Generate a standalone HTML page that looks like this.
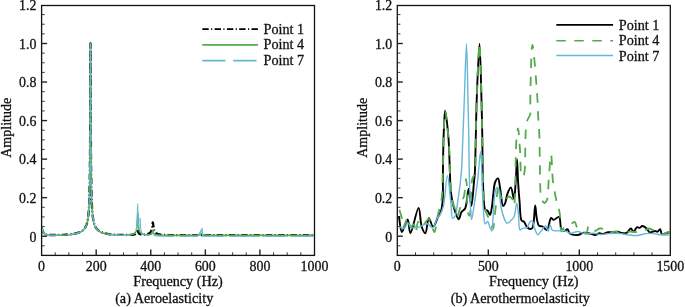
<!DOCTYPE html>
<html><head><meta charset="utf-8"><style>
html,body{margin:0;padding:0;background:#fff;width:685px;height:307px;overflow:hidden}
</style></head><body>
<svg width="685" height="307" viewBox="0 0 685 307" style="display:block;will-change:transform">
<g font-family='"Liberation Serif", serif' font-size="13.9" fill="#111" stroke="#111" stroke-width="0.3">
<rect x="41.6" y="5.5" width="272.9" height="249.9" fill="none" stroke="#111" stroke-width="1.3"/>
<line x1="41.6" y1="245.83" x2="44.7" y2="245.83" stroke="#222" stroke-width="0.9"/>
<line x1="41.6" y1="236.2" x2="47.1" y2="236.2" stroke="#222" stroke-width="1.4"/>
<line x1="41.6" y1="226.56" x2="44.7" y2="226.56" stroke="#222" stroke-width="0.9"/>
<line x1="41.6" y1="216.93" x2="44.7" y2="216.93" stroke="#222" stroke-width="0.9"/>
<line x1="41.6" y1="207.29" x2="44.7" y2="207.29" stroke="#222" stroke-width="0.9"/>
<line x1="41.6" y1="197.66" x2="47.1" y2="197.66" stroke="#222" stroke-width="1.4"/>
<line x1="41.6" y1="188.02" x2="44.7" y2="188.02" stroke="#222" stroke-width="0.9"/>
<line x1="41.6" y1="178.39" x2="44.7" y2="178.39" stroke="#222" stroke-width="0.9"/>
<line x1="41.6" y1="168.75" x2="44.7" y2="168.75" stroke="#222" stroke-width="0.9"/>
<line x1="41.6" y1="159.12" x2="47.1" y2="159.12" stroke="#222" stroke-width="1.4"/>
<line x1="41.6" y1="149.48" x2="44.7" y2="149.48" stroke="#222" stroke-width="0.9"/>
<line x1="41.6" y1="139.85" x2="44.7" y2="139.85" stroke="#222" stroke-width="0.9"/>
<line x1="41.6" y1="130.21" x2="44.7" y2="130.21" stroke="#222" stroke-width="0.9"/>
<line x1="41.6" y1="120.58" x2="47.1" y2="120.58" stroke="#222" stroke-width="1.4"/>
<line x1="41.6" y1="110.94" x2="44.7" y2="110.94" stroke="#222" stroke-width="0.9"/>
<line x1="41.6" y1="101.31" x2="44.7" y2="101.31" stroke="#222" stroke-width="0.9"/>
<line x1="41.6" y1="91.68" x2="44.7" y2="91.68" stroke="#222" stroke-width="0.9"/>
<line x1="41.6" y1="82.04" x2="47.1" y2="82.04" stroke="#222" stroke-width="1.4"/>
<line x1="41.6" y1="72.4" x2="44.7" y2="72.4" stroke="#222" stroke-width="0.9"/>
<line x1="41.6" y1="62.77" x2="44.7" y2="62.77" stroke="#222" stroke-width="0.9"/>
<line x1="41.6" y1="53.13" x2="44.7" y2="53.13" stroke="#222" stroke-width="0.9"/>
<line x1="41.6" y1="43.5" x2="47.1" y2="43.5" stroke="#222" stroke-width="1.4"/>
<line x1="41.6" y1="33.86" x2="44.7" y2="33.86" stroke="#222" stroke-width="0.9"/>
<line x1="41.6" y1="24.23" x2="44.7" y2="24.23" stroke="#222" stroke-width="0.9"/>
<line x1="41.6" y1="14.59" x2="44.7" y2="14.59" stroke="#222" stroke-width="0.9"/>
<line x1="55.24" y1="255.4" x2="55.24" y2="252.3" stroke="#222" stroke-width="0.9"/>
<line x1="68.89" y1="255.4" x2="68.89" y2="252.3" stroke="#222" stroke-width="0.9"/>
<line x1="82.53" y1="255.4" x2="82.53" y2="252.3" stroke="#222" stroke-width="0.9"/>
<line x1="96.18" y1="255.4" x2="96.18" y2="249.4" stroke="#222" stroke-width="1.4"/>
<line x1="109.82" y1="255.4" x2="109.82" y2="252.3" stroke="#222" stroke-width="0.9"/>
<line x1="123.47" y1="255.4" x2="123.47" y2="252.3" stroke="#222" stroke-width="0.9"/>
<line x1="137.11" y1="255.4" x2="137.11" y2="252.3" stroke="#222" stroke-width="0.9"/>
<line x1="150.76" y1="255.4" x2="150.76" y2="249.4" stroke="#222" stroke-width="1.4"/>
<line x1="164.4" y1="255.4" x2="164.4" y2="252.3" stroke="#222" stroke-width="0.9"/>
<line x1="178.05" y1="255.4" x2="178.05" y2="252.3" stroke="#222" stroke-width="0.9"/>
<line x1="191.69" y1="255.4" x2="191.69" y2="252.3" stroke="#222" stroke-width="0.9"/>
<line x1="205.34" y1="255.4" x2="205.34" y2="249.4" stroke="#222" stroke-width="1.4"/>
<line x1="218.98" y1="255.4" x2="218.98" y2="252.3" stroke="#222" stroke-width="0.9"/>
<line x1="232.63" y1="255.4" x2="232.63" y2="252.3" stroke="#222" stroke-width="0.9"/>
<line x1="246.27" y1="255.4" x2="246.27" y2="252.3" stroke="#222" stroke-width="0.9"/>
<line x1="259.92" y1="255.4" x2="259.92" y2="249.4" stroke="#222" stroke-width="1.4"/>
<line x1="273.56" y1="255.4" x2="273.56" y2="252.3" stroke="#222" stroke-width="0.9"/>
<line x1="287.21" y1="255.4" x2="287.21" y2="252.3" stroke="#222" stroke-width="0.9"/>
<line x1="300.86" y1="255.4" x2="300.86" y2="252.3" stroke="#222" stroke-width="0.9"/>
<text x="41.6" y="271" text-anchor="middle">0</text>
<text x="96.18" y="271" text-anchor="middle">200</text>
<text x="150.76" y="271" text-anchor="middle">400</text>
<text x="205.34" y="271" text-anchor="middle">600</text>
<text x="259.92" y="271" text-anchor="middle">800</text>
<text x="314.5" y="271" text-anchor="middle">1000</text>
<text x="36.4" y="241.5" text-anchor="end">0</text>
<text x="36.4" y="202.96" text-anchor="end">0.2</text>
<text x="36.4" y="164.42" text-anchor="end">0.4</text>
<text x="36.4" y="125.88" text-anchor="end">0.6</text>
<text x="36.4" y="87.34" text-anchor="end">0.8</text>
<text x="36.4" y="48.8" text-anchor="end">1.0</text>
<text x="36.4" y="10.26" text-anchor="end">1.2</text>
<text transform="translate(10.6,127.8) rotate(-90)" text-anchor="middle" font-size="14">Amplitude</text>
<text x="178.05" y="285.8" text-anchor="middle" font-size="14.2">Frequency (Hz)</text>
<rect x="397.3" y="5.5" width="273" height="249.9" fill="none" stroke="#111" stroke-width="1.3"/>
<line x1="397.3" y1="245.83" x2="400.4" y2="245.83" stroke="#222" stroke-width="0.9"/>
<line x1="397.3" y1="236.2" x2="402.8" y2="236.2" stroke="#222" stroke-width="1.4"/>
<line x1="397.3" y1="226.56" x2="400.4" y2="226.56" stroke="#222" stroke-width="0.9"/>
<line x1="397.3" y1="216.93" x2="400.4" y2="216.93" stroke="#222" stroke-width="0.9"/>
<line x1="397.3" y1="207.29" x2="400.4" y2="207.29" stroke="#222" stroke-width="0.9"/>
<line x1="397.3" y1="197.66" x2="402.8" y2="197.66" stroke="#222" stroke-width="1.4"/>
<line x1="397.3" y1="188.02" x2="400.4" y2="188.02" stroke="#222" stroke-width="0.9"/>
<line x1="397.3" y1="178.39" x2="400.4" y2="178.39" stroke="#222" stroke-width="0.9"/>
<line x1="397.3" y1="168.75" x2="400.4" y2="168.75" stroke="#222" stroke-width="0.9"/>
<line x1="397.3" y1="159.12" x2="402.8" y2="159.12" stroke="#222" stroke-width="1.4"/>
<line x1="397.3" y1="149.48" x2="400.4" y2="149.48" stroke="#222" stroke-width="0.9"/>
<line x1="397.3" y1="139.85" x2="400.4" y2="139.85" stroke="#222" stroke-width="0.9"/>
<line x1="397.3" y1="130.21" x2="400.4" y2="130.21" stroke="#222" stroke-width="0.9"/>
<line x1="397.3" y1="120.58" x2="402.8" y2="120.58" stroke="#222" stroke-width="1.4"/>
<line x1="397.3" y1="110.94" x2="400.4" y2="110.94" stroke="#222" stroke-width="0.9"/>
<line x1="397.3" y1="101.31" x2="400.4" y2="101.31" stroke="#222" stroke-width="0.9"/>
<line x1="397.3" y1="91.68" x2="400.4" y2="91.68" stroke="#222" stroke-width="0.9"/>
<line x1="397.3" y1="82.04" x2="402.8" y2="82.04" stroke="#222" stroke-width="1.4"/>
<line x1="397.3" y1="72.4" x2="400.4" y2="72.4" stroke="#222" stroke-width="0.9"/>
<line x1="397.3" y1="62.77" x2="400.4" y2="62.77" stroke="#222" stroke-width="0.9"/>
<line x1="397.3" y1="53.13" x2="400.4" y2="53.13" stroke="#222" stroke-width="0.9"/>
<line x1="397.3" y1="43.5" x2="402.8" y2="43.5" stroke="#222" stroke-width="1.4"/>
<line x1="397.3" y1="33.86" x2="400.4" y2="33.86" stroke="#222" stroke-width="0.9"/>
<line x1="397.3" y1="24.23" x2="400.4" y2="24.23" stroke="#222" stroke-width="0.9"/>
<line x1="397.3" y1="14.59" x2="400.4" y2="14.59" stroke="#222" stroke-width="0.9"/>
<line x1="415.5" y1="255.4" x2="415.5" y2="252.3" stroke="#222" stroke-width="0.9"/>
<line x1="433.7" y1="255.4" x2="433.7" y2="252.3" stroke="#222" stroke-width="0.9"/>
<line x1="451.9" y1="255.4" x2="451.9" y2="252.3" stroke="#222" stroke-width="0.9"/>
<line x1="470.1" y1="255.4" x2="470.1" y2="252.3" stroke="#222" stroke-width="0.9"/>
<line x1="488.3" y1="255.4" x2="488.3" y2="249.4" stroke="#222" stroke-width="1.4"/>
<line x1="506.5" y1="255.4" x2="506.5" y2="252.3" stroke="#222" stroke-width="0.9"/>
<line x1="524.7" y1="255.4" x2="524.7" y2="252.3" stroke="#222" stroke-width="0.9"/>
<line x1="542.9" y1="255.4" x2="542.9" y2="252.3" stroke="#222" stroke-width="0.9"/>
<line x1="561.1" y1="255.4" x2="561.1" y2="252.3" stroke="#222" stroke-width="0.9"/>
<line x1="579.3" y1="255.4" x2="579.3" y2="249.4" stroke="#222" stroke-width="1.4"/>
<line x1="597.5" y1="255.4" x2="597.5" y2="252.3" stroke="#222" stroke-width="0.9"/>
<line x1="615.7" y1="255.4" x2="615.7" y2="252.3" stroke="#222" stroke-width="0.9"/>
<line x1="633.9" y1="255.4" x2="633.9" y2="252.3" stroke="#222" stroke-width="0.9"/>
<line x1="652.1" y1="255.4" x2="652.1" y2="252.3" stroke="#222" stroke-width="0.9"/>
<text x="397.3" y="271" text-anchor="middle">0</text>
<text x="488.3" y="271" text-anchor="middle">500</text>
<text x="579.3" y="271" text-anchor="middle">1000</text>
<text x="670.3" y="271" text-anchor="middle">1500</text>
<text x="392.3" y="241.5" text-anchor="end">0</text>
<text x="392.3" y="202.96" text-anchor="end">0.2</text>
<text x="392.3" y="164.42" text-anchor="end">0.4</text>
<text x="392.3" y="125.88" text-anchor="end">0.6</text>
<text x="392.3" y="87.34" text-anchor="end">0.8</text>
<text x="392.3" y="48.8" text-anchor="end">1.0</text>
<text x="392.3" y="10.26" text-anchor="end">1.2</text>
<text transform="translate(367.2,127.8) rotate(-90)" text-anchor="middle" font-size="14">Amplitude</text>
<text x="533.8" y="285.8" text-anchor="middle" font-size="14.2">Frequency (Hz)</text>
<text x="164.2" y="303.3" text-anchor="middle" font-size="14.2">(a) Aeroelasticity</text>
<text x="520.2" y="303.3" text-anchor="middle" font-size="14.2">(b) Aerothermoelasticity</text>
</g>
<defs><clipPath id="cl"><rect x="42" y="6" width="272" height="248.5"/></clipPath><clipPath id="cr"><rect x="397.8" y="6" width="272" height="248.5"/></clipPath></defs>
<g clip-path="url(#cl)" fill="none" stroke-linejoin="round">
<polyline points="41.60,227.33 41.74,227.95 41.87,228.52 42.01,229.04 42.15,229.52 42.28,229.96 42.42,230.37 42.56,230.74 42.69,231.08 42.83,231.40 42.96,231.69 43.10,231.96 43.24,232.21 43.37,232.43 43.51,232.64 43.65,232.83 43.78,233.01 43.92,233.17 44.06,233.32 44.19,233.46 44.33,233.59 44.47,233.70 44.60,233.81 44.74,233.91 44.87,234.00 45.01,234.08 45.15,234.16 45.28,234.23 45.42,234.29 45.56,234.35 45.69,234.41 45.83,234.46 45.97,234.50 46.10,234.55 46.24,234.59 46.38,234.62 46.51,234.66 46.65,234.69 46.79,234.71 46.92,234.74 47.06,234.76 47.19,234.78 47.33,234.80 47.47,234.82 47.60,234.84 47.74,234.86 47.88,234.87 48.01,234.88 48.15,234.90 48.29,234.91 48.42,234.92 48.56,234.93 48.70,234.93 48.83,234.94 48.97,234.95 49.10,234.96 49.24,234.96 49.38,234.97 49.51,234.97 49.65,234.98 49.79,234.98 49.92,234.98 50.06,234.99 50.20,234.99 50.33,234.99 50.47,235.00 50.61,235.00 50.74,235.00 50.88,235.00 51.02,235.00 51.15,235.01 51.29,235.01 51.42,235.01 51.56,235.01 51.70,235.01 51.83,235.01 51.97,235.01 52.11,235.01 52.24,235.01 52.38,235.01 52.52,235.01 52.65,235.01 52.79,235.01 52.93,235.01 53.06,235.01 53.20,235.01 53.33,235.01 53.47,235.01 53.61,235.01 53.74,235.01 53.88,235.01 54.02,235.01 54.15,235.01 54.29,235.01 54.43,235.01 54.56,235.01 54.70,235.01 54.84,235.00 54.97,235.00 55.11,235.00 55.24,235.00 55.38,235.00 55.52,235.00 55.65,235.00 55.79,235.00 55.93,235.00 56.06,234.99 56.20,234.99 56.34,234.99 56.47,234.99 56.61,234.99 56.75,234.99 56.88,234.98 57.02,234.98 57.16,234.98 57.29,234.98 57.43,234.98 57.56,234.98 57.70,234.97 57.84,234.97 57.97,234.97 58.11,234.97 58.25,234.97 58.38,234.96 58.52,234.96 58.66,234.96 58.79,234.96 58.93,234.95 59.07,234.95 59.20,234.95 59.34,234.95 59.47,234.94 59.61,234.94 59.75,234.94 59.88,234.94 60.02,234.93 60.16,234.93 60.29,234.93 60.43,234.92 60.57,234.92 60.70,234.92 60.84,234.91 60.98,234.91 61.11,234.91 61.25,234.90 61.39,234.90 61.52,234.89 61.66,234.89 61.79,234.89 61.93,234.88 62.07,234.88 62.20,234.87 62.34,234.87 62.48,234.86 62.61,234.86 62.75,234.85 62.89,234.85 63.02,234.84 63.16,234.84 63.30,234.83 63.43,234.83 63.57,234.82 63.70,234.82 63.84,234.81 63.98,234.81 64.11,234.80 64.25,234.79 64.39,234.79 64.52,234.78 64.66,234.77 64.80,234.77 64.93,234.76 65.07,234.75 65.21,234.75 65.34,234.74 65.48,234.73 65.62,234.72 65.75,234.72 65.89,234.71 66.02,234.70 66.16,234.69 66.30,234.68 66.43,234.68 66.57,234.67 66.71,234.66 66.84,234.65 66.98,234.64 67.12,234.63 67.25,234.62 67.39,234.61 67.53,234.60 67.66,234.59 67.80,234.58 67.93,234.57 68.07,234.56 68.21,234.55 68.34,234.53 68.48,234.52 68.62,234.51 68.75,234.50 68.89,234.49 69.03,234.47 69.16,234.46 69.30,234.45 69.44,234.43 69.57,234.42 69.71,234.41 69.85,234.39 69.98,234.38 70.12,234.36 70.25,234.35 70.39,234.33 70.53,234.32 70.66,234.30 70.80,234.28 70.94,234.27 71.07,234.25 71.21,234.23 71.35,234.22 71.48,234.20 71.62,234.18 71.76,234.16 71.89,234.14 72.03,234.12 72.16,234.10 72.30,234.08 72.44,234.06 72.57,234.04 72.71,234.02 72.85,234.00 72.98,233.98 73.12,233.95 73.26,233.93 73.39,233.91 73.53,233.88 73.67,233.86 73.80,233.83 73.94,233.81 74.08,233.78 74.21,233.76 74.35,233.73 74.48,233.70 74.62,233.68 74.76,233.65 74.89,233.62 75.03,233.59 75.17,233.56 75.30,233.53 75.44,233.50 75.58,233.47 75.71,233.43 75.85,233.40 75.99,233.37 76.12,233.33 76.26,233.30 76.39,233.26 76.53,233.23 76.67,233.19 76.80,233.15 76.94,233.11 77.08,233.07 77.21,233.03 77.35,232.99 77.49,232.95 77.62,232.91 77.76,232.86 77.90,232.82 78.03,232.77 78.17,232.73 78.31,232.68 78.44,232.63 78.58,232.58 78.71,232.53 78.85,232.48 78.99,232.42 79.12,232.37 79.26,232.32 79.40,232.26 79.53,232.20 79.67,232.14 79.81,232.08 79.94,232.02 80.08,231.95 80.22,231.89 80.35,231.82 80.49,231.75 80.62,231.68 80.76,231.61 80.90,231.54 81.03,231.46 81.17,231.38 81.31,231.30 81.44,231.22 81.58,231.14 81.72,231.05 81.85,230.96 81.99,230.87 82.13,230.77 82.26,230.68 82.40,230.57 82.53,230.47 82.67,230.36 82.81,230.25 82.94,230.14 83.08,230.02 83.22,229.90 83.35,229.77 83.49,229.64 83.63,229.50 83.76,229.36 83.90,229.22 84.04,229.07 84.17,228.91 84.31,228.74 84.45,228.57 84.58,228.39 84.72,228.21 84.85,228.01 84.99,227.81 85.13,227.59 85.26,227.37 85.40,227.14 85.54,226.89 85.67,226.63 85.81,226.35 85.95,226.06 86.08,225.75 86.22,225.43 86.36,225.08 86.49,224.71 86.63,224.32 86.76,223.90 86.90,223.44 87.04,222.96 87.17,222.43 87.31,221.86 87.45,221.25 87.58,220.57 87.72,219.84 87.86,219.02 87.99,218.13 88.13,217.13 88.27,216.02 88.40,214.76 88.54,213.34 88.68,211.71 88.81,209.83 88.95,207.63 89.08,205.02 89.22,201.88 89.36,198.04 89.49,193.23 89.63,187.05 89.77,178.84 89.90,167.50 90.04,151.06 90.18,126.12 90.31,88.64 90.45,48.83 90.50,43.50 90.59,54.91 90.72,97.15 90.86,132.00 90.99,154.89 91.13,170.10 91.27,180.69 91.40,188.43 91.54,194.29 91.68,198.88 91.81,202.56 91.95,205.58 92.09,208.10 92.22,210.23 92.36,212.05 92.50,213.64 92.63,215.03 92.77,216.25 92.91,217.34 93.04,218.31 93.18,219.19 93.31,219.99 93.45,220.71 93.59,221.37 93.72,221.98 93.86,222.54 94.00,223.06 94.13,223.54 94.27,223.98 94.41,224.40 94.54,224.79 94.68,225.15 94.82,225.49 94.95,225.82 95.09,226.12 95.22,226.41 95.36,226.68 95.50,226.94 95.63,227.18 95.77,227.42 95.91,227.64 96.04,227.85 96.18,228.05 96.32,228.25 96.45,228.43 96.59,228.61 96.73,228.78 96.86,228.94 97.00,229.10 97.14,229.25 97.27,229.39 97.41,229.53 97.54,229.67 97.68,229.80 97.82,229.92 97.95,230.04 98.09,230.16 98.23,230.28 98.36,230.39 98.50,230.49 98.64,230.59 98.77,230.70 98.91,230.79 99.05,230.89 99.18,230.98 99.32,231.07 99.45,231.15 99.59,231.24 99.73,231.32 99.86,231.40 100.00,231.48 100.14,231.55 100.27,231.63 100.41,231.70 100.55,231.77 100.68,231.84 100.82,231.90 100.96,231.97 101.09,232.03 101.23,232.09 101.37,232.15 101.50,232.21 101.64,232.27 101.77,232.33 101.91,232.38 102.05,232.44 102.18,232.49 102.32,232.54 102.46,232.59 102.59,232.64 102.73,232.69 102.87,232.74 103.00,232.78 103.14,232.83 103.28,232.87 103.41,232.92 103.55,232.96 103.68,233.00 103.82,233.04 103.96,233.08 104.09,233.12 104.23,233.16 104.37,233.20 104.50,233.23 104.64,233.27 104.78,233.30 104.91,233.34 105.05,233.37 105.19,233.41 105.32,233.44 105.46,233.47 105.60,233.50 105.73,233.53 105.87,233.57 106.00,233.60 106.14,233.62 106.28,233.65 106.41,233.68 106.55,233.71 106.69,233.74 106.82,233.76 106.96,233.79 107.10,233.81 107.23,233.84 107.37,233.86 107.51,233.89 107.64,233.91 107.78,233.94 107.91,233.96 108.05,233.98 108.19,234.00 108.32,234.02 108.46,234.05 108.60,234.07 108.73,234.09 108.87,234.11 109.01,234.13 109.14,234.15 109.28,234.16 109.42,234.18 109.55,234.20 109.69,234.22 109.82,234.24 109.96,234.25 110.10,234.27 110.23,234.29 110.37,234.30 110.51,234.32 110.64,234.33 110.78,234.35 110.92,234.37 111.05,234.38 111.19,234.39 111.33,234.41 111.46,234.42 111.60,234.44 111.74,234.45 111.87,234.46 112.01,234.48 112.14,234.49 112.28,234.50 112.42,234.51 112.55,234.52 112.69,234.54 112.83,234.55 112.96,234.56 113.10,234.57 113.24,234.58 113.37,234.59 113.51,234.60 113.65,234.61 113.78,234.62 113.92,234.63 114.05,234.64 114.19,234.65 114.33,234.66 114.46,234.67 114.60,234.68 114.74,234.69 114.87,234.69 115.01,234.70 115.15,234.71 115.28,234.72 115.42,234.73 115.56,234.73 115.69,234.74 115.83,234.75 115.97,234.76 116.10,234.76 116.24,234.77 116.37,234.78 116.51,234.78 116.65,234.79 116.78,234.79 116.92,234.80 117.06,234.81 117.19,234.81 117.33,234.82 117.47,234.82 117.60,234.83 117.74,234.83 117.88,234.84 118.01,234.85 118.15,234.85 118.28,234.85 118.42,234.86 118.56,234.86 118.69,234.87 118.83,234.87 118.97,234.88 119.10,234.88 119.24,234.89 119.38,234.89 119.51,234.89 119.65,234.90 119.79,234.90 119.92,234.90 120.06,234.91 120.20,234.91 120.33,234.92 120.47,234.92 120.60,234.92 120.74,234.92 120.88,234.93 121.01,234.93 121.15,234.93 121.29,234.94 121.42,234.94 121.56,234.94 121.70,234.94 121.83,234.95 121.97,234.95 122.11,234.95 122.24,234.95 122.38,234.95 122.51,234.96 122.65,234.96 122.79,234.96 122.92,234.96 123.06,234.96 123.20,234.97 123.33,234.97 123.47,234.97 123.61,234.97 123.74,234.97 123.88,234.97 124.02,234.97 124.15,234.97 124.29,234.97 124.43,234.98 124.56,234.98 124.70,234.98 124.83,234.98 124.97,234.98 125.11,234.98 125.24,234.98 125.38,234.98 125.52,234.98 125.65,234.98 125.79,234.98 125.93,234.98 126.06,234.98 126.20,234.98 126.34,234.98 126.47,234.98 126.61,234.97 126.74,234.97 126.88,234.97 127.02,234.97 127.15,234.97 127.29,234.97 127.43,234.97 127.56,234.96 127.70,234.96 127.84,234.96 127.97,234.96 128.11,234.96 128.25,234.95 128.38,234.95 128.52,234.95 128.66,234.94 128.79,234.94 128.93,234.94 129.06,234.93 129.20,234.93 129.34,234.92 129.47,234.92 129.61,234.91 129.75,234.91 129.88,234.90 130.02,234.90 130.16,234.89 130.29,234.88 130.43,234.88 130.57,234.87 130.70,234.86 130.84,234.85 130.97,234.85 131.11,234.84 131.25,234.83 131.38,234.82 131.52,234.81 131.66,234.80 131.79,234.79 131.93,234.78 132.07,234.76 132.20,234.75 132.34,234.74 132.48,234.72 132.61,234.71 132.75,234.69 132.89,234.68 133.02,234.66 133.16,234.64 133.29,234.62 133.43,234.60 133.57,234.58 133.70,234.56 133.84,234.53 133.98,234.50 134.11,234.48 134.25,234.44 134.39,234.41 134.52,234.38 134.66,234.34 134.80,234.30 134.93,234.25 135.07,234.20 135.20,234.14 135.34,234.08 135.48,234.01 135.61,233.94 135.75,233.85 135.89,233.75 136.02,233.64 136.16,233.51 136.30,233.35 136.43,233.17 136.57,232.94 136.71,232.67 136.84,232.32 136.98,231.89 137.11,231.34 137.25,230.67 137.39,229.93 137.52,229.36 137.61,229.24 137.66,229.30 137.80,229.79 137.82,229.93 137.93,230.52 138.07,231.21 138.21,231.78 138.34,232.23 138.48,232.59 138.62,232.88 138.75,233.11 138.89,233.30 139.03,233.46 139.16,233.59 139.30,233.70 139.43,233.80 139.57,233.89 139.71,233.96 139.84,234.03 139.98,234.09 140.12,234.14 140.25,234.19 140.39,234.23 140.53,234.27 140.66,234.31 140.80,234.34 140.94,234.37 141.07,234.39 141.21,234.42 141.34,234.44 141.48,234.46 141.62,234.48 141.75,234.49 141.89,234.51 142.03,234.52 142.16,234.53 142.30,234.54 142.44,234.55 142.57,234.56 142.71,234.57 142.85,234.57 142.98,234.58 143.12,234.58 143.26,234.58 143.39,234.58 143.53,234.58 143.66,234.58 143.80,234.58 143.94,234.58 144.07,234.57 144.21,234.57 144.35,234.56 144.48,234.55 144.62,234.54 144.76,234.54 144.89,234.52 145.03,234.51 145.17,234.50 145.30,234.49 145.44,234.47 145.57,234.45 145.71,234.44 145.85,234.42 145.98,234.40 146.12,234.37 146.26,234.35 146.39,234.33 146.53,234.30 146.67,234.27 146.80,234.24 146.94,234.21 147.08,234.18 147.21,234.14 147.35,234.11 147.49,234.07 147.62,234.03 147.76,233.98 147.89,233.94 148.03,233.89 148.17,233.84 148.30,233.78 148.44,233.72 148.58,233.66 148.71,233.59 148.85,233.52 148.99,233.45 149.12,233.37 149.26,233.28 149.40,233.19 149.53,233.10 149.67,232.99 149.80,232.88 149.94,232.75 150.08,232.62 150.21,232.47 150.35,232.31 150.49,232.13 150.62,231.94 150.76,231.72 150.90,231.47 151.03,231.20 151.17,230.89 151.31,230.54 151.44,230.13 151.58,229.66 151.72,229.11 151.85,228.46 151.99,227.70 152.12,226.82 152.26,225.81 152.40,224.71 152.53,223.65 152.67,222.83 152.81,222.51 152.94,222.83 153.08,223.65 153.22,224.72 153.35,225.81 153.49,226.82 153.63,227.71 153.76,228.47 153.90,229.11 154.03,229.66 154.17,230.14 154.31,230.54 154.44,230.90 154.58,231.21 154.72,231.49 154.85,231.73 154.99,231.95 155.13,232.15 155.26,232.32 155.40,232.49 155.54,232.63 155.67,232.77 155.81,232.90 155.95,233.01 156.08,233.12 156.22,233.22 156.35,233.31 156.49,233.40 156.63,233.48 156.76,233.56 156.90,233.63 157.04,233.70 157.17,233.76 157.31,233.82 157.45,233.88 157.58,233.93 157.72,233.98 157.86,234.03 157.99,234.08 158.13,234.12 158.26,234.17 158.40,234.21 158.54,234.24 158.67,234.28 158.81,234.32 158.95,234.35 159.08,234.38 159.22,234.41 159.36,234.44 159.49,234.47 159.63,234.50 159.77,234.52 159.90,234.55 160.04,234.57 160.18,234.59 160.31,234.61 160.45,234.63 160.58,234.65 160.72,234.67 160.86,234.69 160.99,234.71 161.13,234.72 161.27,234.74 161.40,234.75 161.54,234.77 161.68,234.78 161.81,234.80 161.95,234.81 162.09,234.82 162.22,234.83 162.36,234.84 162.49,234.85 162.63,234.86 162.77,234.87 162.90,234.88 163.04,234.89 163.18,234.90 163.31,234.91 163.45,234.91 163.59,234.92 163.72,234.93 163.86,234.93 164.00,234.94 164.13,234.95 164.27,234.95 164.40,234.96 164.54,234.96 164.68,234.97 164.81,234.97 164.95,234.98 165.09,234.98 165.22,234.98 165.36,234.99 165.50,234.99 165.63,234.99 165.77,235.00 165.91,235.00 166.04,235.00 166.18,235.00 166.32,235.01 166.45,235.01 166.59,235.01 166.72,235.01 166.86,235.02 167.00,235.02 167.13,235.02 167.27,235.02 167.41,235.02 167.54,235.02 167.68,235.03 167.82,235.03 167.95,235.03 168.09,235.03 168.23,235.03 168.36,235.03 168.50,235.03 168.63,235.03 168.77,235.03 168.91,235.03 169.04,235.03 169.18,235.04 169.32,235.04 169.45,235.04 169.59,235.04 169.73,235.04 169.86,235.04 170.00,235.04 170.14,235.04 170.27,235.04 170.41,235.04 170.55,235.04 170.68,235.04 170.82,235.04 170.95,235.04 171.09,235.04 171.23,235.04 171.36,235.04 171.50,235.04 171.64,235.04 171.77,235.04 171.91,235.04 172.05,235.04 172.18,235.04 172.32,235.04 172.46,235.04 172.59,235.04 172.73,235.04 172.86,235.04 173.00,235.04 173.14,235.04 173.27,235.04 173.41,235.04 173.55,235.04 173.68,235.04 173.82,235.04 173.96,235.04 174.09,235.04 174.23,235.04 174.37,235.04 174.50,235.04 174.64,235.04 174.78,235.04 174.91,235.04 175.05,235.04 175.18,235.04 175.32,235.04 175.46,235.04 175.59,235.04 175.73,235.04 175.87,235.04 176.00,235.04 176.14,235.04 176.28,235.04 176.41,235.04 176.55,235.04 176.69,235.04 176.82,235.04 176.96,235.04 177.09,235.04 177.23,235.04 177.37,235.04 177.50,235.04 177.64,235.04 177.78,235.04 177.91,235.04 178.05,235.04 178.19,235.04 178.32,235.04 178.46,235.04 178.60,235.04 178.73,235.04 178.87,235.04 179.01,235.04 179.14,235.04 179.28,235.04 179.41,235.04 179.55,235.04 179.69,235.04 179.82,235.04 179.96,235.04 180.10,235.04 180.23,235.04 180.37,235.04 180.51,235.04 180.64,235.04 180.78,235.04 180.92,235.04 181.05,235.04 181.19,235.04 181.32,235.04 181.46,235.04 181.60,235.04 181.73,235.04 181.87,235.04 182.01,235.04 182.14,235.04 182.28,235.04 182.42,235.04 182.55,235.04 182.69,235.04 182.83,235.04 182.96,235.04 183.10,235.04 183.24,235.04 183.37,235.04 183.51,235.04 183.64,235.04 183.78,235.04 183.92,235.04 184.05,235.04 184.19,235.04 184.33,235.04 184.46,235.04 184.60,235.04 184.74,235.04 184.87,235.04 185.01,235.04 185.15,235.04 185.28,235.04 185.42,235.04 185.55,235.04 185.69,235.04 185.83,235.04 185.96,235.04 186.10,235.04 186.24,235.04 186.37,235.04 186.51,235.04 186.65,235.04 186.78,235.04 186.92,235.04 187.06,235.04 187.19,235.04 187.33,235.04 187.47,235.04 187.60,235.04 187.74,235.04 187.87,235.04 188.01,235.04 188.15,235.04 188.28,235.04 188.42,235.04 188.56,235.04 188.69,235.04 188.83,235.04 188.97,235.04 189.10,235.04 189.24,235.04 189.38,235.04 189.51,235.04 189.65,235.04 189.78,235.04 189.92,235.04 190.06,235.04 190.19,235.04 190.33,235.04 190.47,235.04 190.60,235.04 190.74,235.04 190.88,235.04 191.01,235.04 191.15,235.04 191.29,235.04 191.42,235.04 191.56,235.04 191.69,235.04 191.83,235.04 191.97,235.04 192.10,235.04 192.24,235.04 192.38,235.04 192.51,235.04 192.65,235.04 192.79,235.04 192.92,235.04 193.06,235.04 193.20,235.04 193.33,235.04 193.47,235.04 193.61,235.04 193.74,235.04 193.88,235.04 194.01,235.04 194.15,235.04 194.29,235.04 194.42,235.04 194.56,235.04 194.70,235.04 194.83,235.04 194.97,235.04 195.11,235.04 195.24,235.04 195.38,235.04 195.52,235.04 195.65,235.04 195.79,235.04 195.92,235.04 196.06,235.04 196.20,235.04 196.33,235.04 196.47,235.04 196.61,235.04 196.74,235.04 196.88,235.04 197.02,235.04 197.15,235.04 197.29,235.04 197.43,235.04 197.56,235.04 197.70,235.04 197.84,235.04 197.97,235.04 198.11,235.04 198.24,235.04 198.38,235.04 198.52,235.04 198.65,235.04 198.79,235.04 198.93,235.04 199.06,235.04 199.20,235.04 199.34,235.04 199.47,235.04 199.61,235.04 199.75,235.04 199.88,235.04 200.02,235.04 200.15,235.04 200.29,235.04 200.43,235.04 200.56,235.04 200.70,235.04 200.84,235.04 200.97,235.04 201.11,235.04 201.25,235.04 201.38,235.04 201.52,235.04 201.66,235.04 201.79,235.04 201.93,235.04 202.07,235.04 202.20,235.04 202.34,235.04 202.47,235.04 202.61,235.04 202.75,235.04 202.88,235.04 203.02,235.04 203.16,235.04 203.29,235.04 203.43,235.04 203.57,235.04 203.70,235.04 203.84,235.04 203.98,235.04 204.11,235.04 204.25,235.04 204.38,235.04 204.52,235.04 204.66,235.04 204.79,235.04 204.93,235.04 205.07,235.04 205.20,235.04 205.34,235.04 205.48,235.04 205.61,235.04 205.75,235.04 205.89,235.04 206.02,235.04 206.16,235.04 206.30,235.04 206.43,235.04 206.57,235.04 206.70,235.04 206.84,235.04 206.98,235.04 207.11,235.04 207.25,235.04 207.39,235.04 207.52,235.04 207.66,235.04 207.80,235.04 207.93,235.04 208.07,235.04 208.21,235.04 208.34,235.04 208.48,235.04 208.61,235.04 208.75,235.04 208.89,235.04 209.02,235.04 209.16,235.04 209.30,235.04 209.43,235.04 209.57,235.04 209.71,235.04 209.84,235.04 209.98,235.04 210.12,235.04 210.25,235.04 210.39,235.04 210.53,235.04 210.66,235.04 210.80,235.04 210.93,235.04 211.07,235.04 211.21,235.04 211.34,235.04 211.48,235.04 211.62,235.04 211.75,235.04 211.89,235.04 212.03,235.04 212.16,235.04 212.30,235.04 212.44,235.04 212.57,235.04 212.71,235.04 212.84,235.04 212.98,235.04 213.12,235.04 213.25,235.04 213.39,235.04 213.53,235.04 213.66,235.04 213.80,235.04 213.94,235.04 214.07,235.04 214.21,235.04 214.35,235.04 214.48,235.04 214.62,235.04 214.76,235.04 214.89,235.04 215.03,235.04 215.16,235.04 215.30,235.04 215.44,235.04 215.57,235.04 215.71,235.04 215.85,235.04 215.98,235.04 216.12,235.04 216.26,235.04 216.39,235.04 216.53,235.04 216.67,235.04 216.80,235.04 216.94,235.04 217.07,235.04 217.21,235.04 217.35,235.04 217.48,235.04 217.62,235.04 217.76,235.04 217.89,235.04 218.03,235.04 218.17,235.04 218.30,235.04 218.44,235.04 218.58,235.04 218.71,235.04 218.85,235.04 218.98,235.04 219.12,235.04 219.26,235.04 219.39,235.04 219.53,235.04 219.67,235.04 219.80,235.04 219.94,235.04 220.08,235.04 220.21,235.04 220.35,235.04 220.49,235.04 220.62,235.04 220.76,235.04 220.90,235.04 221.03,235.04 221.17,235.04 221.30,235.04 221.44,235.04 221.58,235.04 221.71,235.04 221.85,235.04 221.99,235.04 222.12,235.04 222.26,235.04 222.40,235.04 222.53,235.04 222.67,235.04 222.81,235.04 222.94,235.04 223.08,235.04 223.21,235.04 223.35,235.04 223.49,235.04 223.62,235.04 223.76,235.04 223.90,235.04 224.03,235.04 224.17,235.04 224.31,235.04 224.44,235.04 224.58,235.04 224.72,235.04 224.85,235.04 224.99,235.04 225.13,235.04 225.26,235.04 225.40,235.04 225.53,235.04 225.67,235.04 225.81,235.04 225.94,235.04 226.08,235.04 226.22,235.04 226.35,235.04 226.49,235.04 226.63,235.04 226.76,235.04 226.90,235.04 227.04,235.04 227.17,235.04 227.31,235.04 227.44,235.04 227.58,235.04 227.72,235.04 227.85,235.04 227.99,235.04 228.13,235.04 228.26,235.04 228.40,235.04 228.54,235.04 228.67,235.04 228.81,235.04 228.95,235.04 229.08,235.04 229.22,235.04 229.36,235.04 229.49,235.04 229.63,235.04 229.76,235.04 229.90,235.04 230.04,235.04 230.17,235.04 230.31,235.04 230.45,235.04 230.58,235.04 230.72,235.04 230.86,235.04 230.99,235.04 231.13,235.04 231.27,235.04 231.40,235.04 231.54,235.04 231.67,235.04 231.81,235.04 231.95,235.04 232.08,235.04 232.22,235.04 232.36,235.04 232.49,235.04 232.63,235.04 232.77,235.04 232.90,235.04 233.04,235.04 233.18,235.04 233.31,235.04 233.45,235.04 233.59,235.04 233.72,235.04 233.86,235.04 233.99,235.04 234.13,235.04 234.27,235.04 234.40,235.04 234.54,235.04 234.68,235.04 234.81,235.04 234.95,235.04 235.09,235.04 235.22,235.04 235.36,235.04 235.50,235.04 235.63,235.04 235.77,235.04 235.90,235.04 236.04,235.04 236.18,235.04 236.31,235.04 236.45,235.04 236.59,235.04 236.72,235.04 236.86,235.04 237.00,235.04 237.13,235.04 237.27,235.04 237.41,235.04 237.54,235.04 237.68,235.04 237.82,235.04 237.95,235.04 238.09,235.04 238.22,235.04 238.36,235.04 238.50,235.04 238.63,235.04 238.77,235.04 238.91,235.04 239.04,235.04 239.18,235.04 239.32,235.04 239.45,235.04 239.59,235.04 239.73,235.04 239.86,235.04 240.00,235.04 240.13,235.04 240.27,235.04 240.41,235.04 240.54,235.04 240.68,235.04 240.82,235.04 240.95,235.04 241.09,235.04 241.23,235.04 241.36,235.04 241.50,235.04 241.64,235.04 241.77,235.04 241.91,235.04 242.05,235.04 242.18,235.04 242.32,235.04 242.45,235.04 242.59,235.04 242.73,235.04 242.86,235.04 243.00,235.04 243.14,235.04 243.27,235.04 243.41,235.04 243.55,235.04 243.68,235.04 243.82,235.04 243.96,235.04 244.09,235.04 244.23,235.04 244.36,235.04 244.50,235.04 244.64,235.04 244.77,235.04 244.91,235.04 245.05,235.04 245.18,235.04 245.32,235.04 245.46,235.04 245.59,235.04 245.73,235.04 245.87,235.04 246.00,235.04 246.14,235.04 246.27,235.04 246.41,235.04 246.55,235.04 246.68,235.04 246.82,235.04 246.96,235.04 247.09,235.04 247.23,235.04 247.37,235.04 247.50,235.04 247.64,235.04 247.78,235.04 247.91,235.04 248.05,235.04 248.19,235.04 248.32,235.04 248.46,235.04 248.59,235.04 248.73,235.04 248.87,235.04 249.00,235.04 249.14,235.04 249.28,235.04 249.41,235.04 249.55,235.04 249.69,235.04 249.82,235.04 249.96,235.04 250.10,235.04 250.23,235.04 250.37,235.04 250.50,235.04 250.64,235.04 250.78,235.04 250.91,235.04 251.05,235.04 251.19,235.04 251.32,235.04 251.46,235.04 251.60,235.04 251.73,235.04 251.87,235.04 252.01,235.04 252.14,235.04 252.28,235.04 252.42,235.04 252.55,235.04 252.69,235.04 252.82,235.04 252.96,235.04 253.10,235.04 253.23,235.04 253.37,235.04 253.51,235.04 253.64,235.04 253.78,235.04 253.92,235.04 254.05,235.04 254.19,235.04 254.33,235.04 254.46,235.04 254.60,235.04 254.73,235.04 254.87,235.04 255.01,235.04 255.14,235.04 255.28,235.04 255.42,235.04 255.55,235.04 255.69,235.04 255.83,235.04 255.96,235.04 256.10,235.04 256.24,235.04 256.37,235.04 256.51,235.04 256.65,235.04 256.78,235.04 256.92,235.04 257.05,235.04 257.19,235.04 257.33,235.04 257.46,235.04 257.60,235.04 257.74,235.04 257.87,235.04 258.01,235.04 258.15,235.04 258.28,235.04 258.42,235.04 258.56,235.04 258.69,235.04 258.83,235.04 258.96,235.04 259.10,235.04 259.24,235.04 259.37,235.04 259.51,235.04 259.65,235.04 259.78,235.04 259.92,235.04 260.06,235.04 260.19,235.04 260.33,235.04 260.47,235.04 260.60,235.04 260.74,235.04 260.88,235.04 261.01,235.04 261.15,235.04 261.28,235.04 261.42,235.04 261.56,235.04 261.69,235.04 261.83,235.04 261.97,235.04 262.10,235.04 262.24,235.04 262.38,235.04 262.51,235.04 262.65,235.04 262.79,235.04 262.92,235.04 263.06,235.04 263.19,235.04 263.33,235.04 263.47,235.04 263.60,235.04 263.74,235.04 263.88,235.04 264.01,235.04 264.15,235.04 264.29,235.04 264.42,235.04 264.56,235.04 264.70,235.04 264.83,235.04 264.97,235.04 265.11,235.04 265.24,235.04 265.38,235.04 265.51,235.04 265.65,235.04 265.79,235.04 265.92,235.04 266.06,235.04 266.20,235.04 266.33,235.04 266.47,235.04 266.61,235.04 266.74,235.04 266.88,235.04 267.02,235.04 267.15,235.04 267.29,235.04 267.42,235.04 267.56,235.04 267.70,235.04 267.83,235.04 267.97,235.04 268.11,235.04 268.24,235.04 268.38,235.04 268.52,235.04 268.65,235.04 268.79,235.04 268.93,235.04 269.06,235.04 269.20,235.04 269.34,235.04 269.47,235.04 269.61,235.04 269.74,235.04 269.88,235.04 270.02,235.04 270.15,235.04 270.29,235.04 270.43,235.04 270.56,235.04 270.70,235.04 270.84,235.04 270.97,235.04 271.11,235.04 271.25,235.04 271.38,235.04 271.52,235.04 271.65,235.04 271.79,235.04 271.93,235.04 272.06,235.04 272.20,235.04 272.34,235.04 272.47,235.04 272.61,235.04 272.75,235.04 272.88,235.04 273.02,235.04 273.16,235.04 273.29,235.04 273.43,235.04 273.56,235.04 273.70,235.04 273.84,235.04 273.97,235.04 274.11,235.04 274.25,235.04 274.38,235.04 274.52,235.04 274.66,235.04 274.79,235.04 274.93,235.04 275.07,235.04 275.20,235.04 275.34,235.04 275.48,235.04 275.61,235.04 275.75,235.04 275.88,235.04 276.02,235.04 276.16,235.04 276.29,235.04 276.43,235.04 276.57,235.04 276.70,235.04 276.84,235.04 276.98,235.04 277.11,235.04 277.25,235.04 277.39,235.04 277.52,235.04 277.66,235.04 277.79,235.04 277.93,235.04 278.07,235.04 278.20,235.04 278.34,235.04 278.48,235.04 278.61,235.04 278.75,235.04 278.89,235.04 279.02,235.04 279.16,235.04 279.30,235.04 279.43,235.04 279.57,235.04 279.71,235.04 279.84,235.04 279.98,235.04 280.11,235.04 280.25,235.04 280.39,235.04 280.52,235.04 280.66,235.04 280.80,235.04 280.93,235.04 281.07,235.04 281.21,235.04 281.34,235.04 281.48,235.04 281.62,235.04 281.75,235.04 281.89,235.04 282.02,235.04 282.16,235.04 282.30,235.04 282.43,235.04 282.57,235.04 282.71,235.04 282.84,235.04 282.98,235.04 283.12,235.04 283.25,235.04 283.39,235.04 283.53,235.04 283.66,235.04 283.80,235.04 283.94,235.04 284.07,235.04 284.21,235.04 284.34,235.04 284.48,235.04 284.62,235.04 284.75,235.04 284.89,235.04 285.03,235.04 285.16,235.04 285.30,235.04 285.44,235.04 285.57,235.04 285.71,235.04 285.85,235.04 285.98,235.04 286.12,235.04 286.25,235.04 286.39,235.04 286.53,235.04 286.66,235.04 286.80,235.04 286.94,235.04 287.07,235.04 287.21,235.04 287.35,235.04 287.48,235.04 287.62,235.04 287.76,235.04 287.89,235.04 288.03,235.04 288.17,235.04 288.30,235.04 288.44,235.04 288.57,235.04 288.71,235.04 288.85,235.04 288.98,235.04 289.12,235.04 289.26,235.04 289.39,235.04 289.53,235.04 289.67,235.04 289.80,235.04 289.94,235.04 290.08,235.04 290.21,235.04 290.35,235.04 290.48,235.04 290.62,235.04 290.76,235.04 290.89,235.04 291.03,235.04 291.17,235.04 291.30,235.04 291.44,235.04 291.58,235.04 291.71,235.04 291.85,235.04 291.99,235.04 292.12,235.04 292.26,235.04 292.40,235.04 292.53,235.04 292.67,235.04 292.80,235.04 292.94,235.04 293.08,235.04 293.21,235.04 293.35,235.04 293.49,235.04 293.62,235.04 293.76,235.04 293.90,235.04 294.03,235.04 294.17,235.04 294.31,235.04 294.44,235.04 294.58,235.04 294.71,235.04 294.85,235.04 294.99,235.04 295.12,235.04 295.26,235.04 295.40,235.04 295.53,235.04 295.67,235.04 295.81,235.04 295.94,235.04 296.08,235.04 296.22,235.04 296.35,235.04 296.49,235.04 296.63,235.04 296.76,235.04 296.90,235.04 297.03,235.04 297.17,235.04 297.31,235.04 297.44,235.04 297.58,235.04 297.72,235.04 297.85,235.04 297.99,235.04 298.13,235.04 298.26,235.04 298.40,235.04 298.54,235.04 298.67,235.04 298.81,235.04 298.94,235.04 299.08,235.04 299.22,235.04 299.35,235.04 299.49,235.04 299.63,235.04 299.76,235.04 299.90,235.04 300.04,235.04 300.17,235.04 300.31,235.04 300.45,235.04 300.58,235.04 300.72,235.04 300.86,235.04 300.99,235.04 301.13,235.04 301.26,235.04 301.40,235.04 301.54,235.04 301.67,235.04 301.81,235.04 301.95,235.04 302.08,235.04 302.22,235.04 302.36,235.04 302.49,235.04 302.63,235.04 302.77,235.04 302.90,235.04 303.04,235.04 303.17,235.04 303.31,235.04 303.45,235.04 303.58,235.04 303.72,235.04 303.86,235.04 303.99,235.04 304.13,235.04 304.27,235.04 304.40,235.04 304.54,235.04 304.68,235.04 304.81,235.04 304.95,235.04 305.08,235.04 305.22,235.04 305.36,235.04 305.49,235.04 305.63,235.04 305.77,235.04 305.90,235.04 306.04,235.04 306.18,235.04 306.31,235.04 306.45,235.04 306.59,235.04 306.72,235.04 306.86,235.04 307.00,235.04 307.13,235.04 307.27,235.04 307.40,235.04 307.54,235.04 307.68,235.04 307.81,235.04 307.95,235.04 308.09,235.04 308.22,235.04 308.36,235.04 308.50,235.04 308.63,235.04 308.77,235.04 308.91,235.04 309.04,235.04 309.18,235.04 309.31,235.04 309.45,235.04 309.59,235.04 309.72,235.04 309.86,235.04 310.00,235.04 310.13,235.04 310.27,235.04 310.41,235.04 310.54,235.04 310.68,235.04 310.82,235.04 310.95,235.04 311.09,235.04 311.23,235.04 311.36,235.04 311.50,235.04 311.63,235.04 311.77,235.04 311.91,235.04 312.04,235.04 312.18,235.04 312.32,235.04 312.45,235.04 312.59,235.04 312.73,235.04 312.86,235.04 313.00,235.04 313.14,235.04 313.27,235.04 313.41,235.04 313.54,235.04 313.68,235.04 313.82,235.04 313.95,235.04 314.09,235.04 314.23,235.04 314.36,235.04 314.50,235.04" stroke="#000" stroke-width="2.3" stroke-dasharray="6.4 2.4 1.1 2.4"/>
<polyline points="41.60,227.24 41.74,227.89 41.87,228.48 42.01,229.03 42.15,229.53 42.28,230.00 42.42,230.42 42.56,230.81 42.69,231.18 42.83,231.51 42.96,231.81 43.10,232.09 43.24,232.35 43.37,232.59 43.51,232.81 43.65,233.01 43.78,233.20 43.92,233.37 44.06,233.52 44.19,233.67 44.33,233.80 44.47,233.92 44.60,234.04 44.74,234.14 44.87,234.23 45.01,234.32 45.15,234.40 45.28,234.48 45.42,234.54 45.56,234.61 45.69,234.66 45.83,234.72 45.97,234.77 46.10,234.81 46.24,234.85 46.38,234.89 46.51,234.92 46.65,234.96 46.79,234.99 46.92,235.01 47.06,235.04 47.19,235.06 47.33,235.08 47.47,235.10 47.60,235.12 47.74,235.14 47.88,235.15 48.01,235.16 48.15,235.18 48.29,235.19 48.42,235.20 48.56,235.21 48.70,235.22 48.83,235.23 48.97,235.23 49.10,235.24 49.24,235.25 49.38,235.25 49.51,235.26 49.65,235.26 49.79,235.27 49.92,235.27 50.06,235.27 50.20,235.28 50.33,235.28 50.47,235.28 50.61,235.29 50.74,235.29 50.88,235.29 51.02,235.29 51.15,235.29 51.29,235.29 51.42,235.30 51.56,235.30 51.70,235.30 51.83,235.30 51.97,235.30 52.11,235.30 52.24,235.30 52.38,235.30 52.52,235.30 52.65,235.30 52.79,235.30 52.93,235.30 53.06,235.30 53.20,235.30 53.33,235.30 53.47,235.30 53.61,235.30 53.74,235.30 53.88,235.30 54.02,235.30 54.15,235.30 54.29,235.30 54.43,235.30 54.56,235.29 54.70,235.29 54.84,235.29 54.97,235.29 55.11,235.29 55.24,235.29 55.38,235.29 55.52,235.29 55.65,235.29 55.79,235.29 55.93,235.28 56.06,235.28 56.20,235.28 56.34,235.28 56.47,235.28 56.61,235.28 56.75,235.28 56.88,235.27 57.02,235.27 57.16,235.27 57.29,235.27 57.43,235.27 57.56,235.26 57.70,235.26 57.84,235.26 57.97,235.26 58.11,235.26 58.25,235.25 58.38,235.25 58.52,235.25 58.66,235.25 58.79,235.25 58.93,235.24 59.07,235.24 59.20,235.24 59.34,235.24 59.47,235.23 59.61,235.23 59.75,235.23 59.88,235.22 60.02,235.22 60.16,235.22 60.29,235.21 60.43,235.21 60.57,235.21 60.70,235.20 60.84,235.20 60.98,235.20 61.11,235.19 61.25,235.19 61.39,235.19 61.52,235.18 61.66,235.18 61.79,235.17 61.93,235.17 62.07,235.17 62.20,235.16 62.34,235.16 62.48,235.15 62.61,235.15 62.75,235.14 62.89,235.14 63.02,235.13 63.16,235.13 63.30,235.12 63.43,235.12 63.57,235.11 63.70,235.11 63.84,235.10 63.98,235.09 64.11,235.09 64.25,235.08 64.39,235.08 64.52,235.07 64.66,235.06 64.80,235.06 64.93,235.05 65.07,235.04 65.21,235.04 65.34,235.03 65.48,235.02 65.62,235.01 65.75,235.01 65.89,235.00 66.02,234.99 66.16,234.98 66.30,234.97 66.43,234.96 66.57,234.96 66.71,234.95 66.84,234.94 66.98,234.93 67.12,234.92 67.25,234.91 67.39,234.90 67.53,234.89 67.66,234.88 67.80,234.87 67.93,234.86 68.07,234.85 68.21,234.83 68.34,234.82 68.48,234.81 68.62,234.80 68.75,234.79 68.89,234.77 69.03,234.76 69.16,234.75 69.30,234.74 69.44,234.72 69.57,234.71 69.71,234.69 69.85,234.68 69.98,234.67 70.12,234.65 70.25,234.64 70.39,234.62 70.53,234.60 70.66,234.59 70.80,234.57 70.94,234.56 71.07,234.54 71.21,234.52 71.35,234.50 71.48,234.49 71.62,234.47 71.76,234.45 71.89,234.43 72.03,234.41 72.16,234.39 72.30,234.37 72.44,234.35 72.57,234.33 72.71,234.31 72.85,234.29 72.98,234.26 73.12,234.24 73.26,234.22 73.39,234.19 73.53,234.17 73.67,234.15 73.80,234.12 73.94,234.10 74.08,234.07 74.21,234.04 74.35,234.02 74.48,233.99 74.62,233.96 74.76,233.93 74.89,233.91 75.03,233.88 75.17,233.85 75.30,233.82 75.44,233.78 75.58,233.75 75.71,233.72 75.85,233.69 75.99,233.65 76.12,233.62 76.26,233.58 76.39,233.55 76.53,233.51 76.67,233.47 76.80,233.44 76.94,233.40 77.08,233.36 77.21,233.32 77.35,233.28 77.49,233.24 77.62,233.19 77.76,233.15 77.90,233.10 78.03,233.06 78.17,233.01 78.31,232.96 78.44,232.92 78.58,232.87 78.71,232.82 78.85,232.76 78.99,232.71 79.12,232.66 79.26,232.60 79.40,232.54 79.53,232.49 79.67,232.43 79.81,232.37 79.94,232.30 80.08,232.24 80.22,232.17 80.35,232.11 80.49,232.04 80.62,231.97 80.76,231.90 80.90,231.82 81.03,231.75 81.17,231.67 81.31,231.59 81.44,231.50 81.58,231.42 81.72,231.33 81.85,231.24 81.99,231.15 82.13,231.06 82.26,230.96 82.40,230.86 82.53,230.75 82.67,230.65 82.81,230.53 82.94,230.42 83.08,230.30 83.22,230.18 83.35,230.05 83.49,229.92 83.63,229.79 83.76,229.64 83.90,229.50 84.04,229.35 84.17,229.19 84.31,229.02 84.45,228.85 84.58,228.67 84.72,228.49 84.85,228.29 84.99,228.09 85.13,227.87 85.26,227.65 85.40,227.41 85.54,227.16 85.67,226.90 85.81,226.63 85.95,226.34 86.08,226.03 86.22,225.70 86.36,225.36 86.49,224.99 86.63,224.59 86.76,224.17 86.90,223.71 87.04,223.23 87.17,222.70 87.31,222.13 87.45,221.51 87.58,220.84 87.72,220.10 87.86,219.29 87.99,218.39 88.13,217.39 88.27,216.28 88.40,215.02 88.54,213.60 88.68,211.96 88.81,210.08 88.95,207.87 89.08,205.26 89.22,202.12 89.36,198.28 89.49,193.46 89.63,187.27 89.77,179.05 89.90,167.69 90.04,151.22 90.18,126.24 90.31,88.70 90.45,48.84 90.50,43.50 90.59,54.93 90.72,97.23 90.86,132.14 90.99,155.06 91.13,170.29 91.27,180.90 91.40,188.65 91.54,194.52 91.68,199.11 91.81,202.80 91.95,205.82 92.09,208.34 92.22,210.48 92.36,212.31 92.50,213.90 92.63,215.28 92.77,216.51 92.91,217.60 93.04,218.58 93.18,219.46 93.31,220.25 93.45,220.98 93.59,221.64 93.72,222.25 93.86,222.81 94.00,223.33 94.13,223.81 94.27,224.25 94.41,224.67 94.54,225.06 94.68,225.43 94.82,225.77 94.95,226.09 95.09,226.40 95.22,226.68 95.36,226.96 95.50,227.22 95.63,227.46 95.77,227.69 95.91,227.92 96.04,228.13 96.18,228.33 96.32,228.52 96.45,228.71 96.59,228.89 96.73,229.06 96.86,229.22 97.00,229.38 97.14,229.53 97.27,229.67 97.41,229.81 97.54,229.95 97.68,230.08 97.82,230.20 97.95,230.33 98.09,230.44 98.23,230.56 98.36,230.67 98.50,230.77 98.64,230.88 98.77,230.98 98.91,231.07 99.05,231.17 99.18,231.26 99.32,231.35 99.45,231.44 99.59,231.52 99.73,231.60 99.86,231.68 100.00,231.76 100.14,231.84 100.27,231.91 100.41,231.98 100.55,232.05 100.68,232.12 100.82,232.19 100.96,232.25 101.09,232.32 101.23,232.38 101.37,232.44 101.50,232.50 101.64,232.55 101.77,232.61 101.91,232.67 102.05,232.72 102.18,232.77 102.32,232.83 102.46,232.88 102.59,232.93 102.73,232.97 102.87,233.02 103.00,233.07 103.14,233.11 103.28,233.16 103.41,233.20 103.55,233.24 103.68,233.29 103.82,233.33 103.96,233.37 104.09,233.41 104.23,233.44 104.37,233.48 104.50,233.52 104.64,233.56 104.78,233.59 104.91,233.63 105.05,233.66 105.19,233.69 105.32,233.73 105.46,233.76 105.60,233.79 105.73,233.82 105.87,233.85 106.00,233.88 106.14,233.91 106.28,233.94 106.41,233.97 106.55,234.00 106.69,234.02 106.82,234.05 106.96,234.08 107.10,234.10 107.23,234.13 107.37,234.15 107.51,234.18 107.64,234.20 107.78,234.22 107.91,234.25 108.05,234.27 108.19,234.29 108.32,234.31 108.46,234.33 108.60,234.35 108.73,234.37 108.87,234.39 109.01,234.41 109.14,234.43 109.28,234.45 109.42,234.47 109.55,234.49 109.69,234.51 109.82,234.52 109.96,234.54 110.10,234.56 110.23,234.58 110.37,234.59 110.51,234.61 110.64,234.62 110.78,234.64 110.92,234.65 111.05,234.67 111.19,234.68 111.33,234.70 111.46,234.71 111.60,234.72 111.74,234.74 111.87,234.75 112.01,234.76 112.14,234.78 112.28,234.79 112.42,234.80 112.55,234.81 112.69,234.82 112.83,234.84 112.96,234.85 113.10,234.86 113.24,234.87 113.37,234.88 113.51,234.89 113.65,234.90 113.78,234.91 113.92,234.92 114.05,234.93 114.19,234.94 114.33,234.95 114.46,234.96 114.60,234.97 114.74,234.97 114.87,234.98 115.01,234.99 115.15,235.00 115.28,235.01 115.42,235.01 115.56,235.02 115.69,235.03 115.83,235.04 115.97,235.04 116.10,235.05 116.24,235.06 116.37,235.06 116.51,235.07 116.65,235.08 116.78,235.08 116.92,235.09 117.06,235.10 117.19,235.10 117.33,235.11 117.47,235.11 117.60,235.12 117.74,235.12 117.88,235.13 118.01,235.13 118.15,235.14 118.28,235.14 118.42,235.15 118.56,235.15 118.69,235.16 118.83,235.16 118.97,235.16 119.10,235.17 119.24,235.17 119.38,235.18 119.51,235.18 119.65,235.18 119.79,235.19 119.92,235.19 120.06,235.19 120.20,235.20 120.33,235.20 120.47,235.20 120.60,235.21 120.74,235.21 120.88,235.21 121.01,235.21 121.15,235.22 121.29,235.22 121.42,235.22 121.56,235.22 121.70,235.23 121.83,235.23 121.97,235.23 122.11,235.23 122.24,235.23 122.38,235.23 122.51,235.23 122.65,235.24 122.79,235.24 122.92,235.24 123.06,235.24 123.20,235.24 123.33,235.24 123.47,235.24 123.61,235.24 123.74,235.24 123.88,235.24 124.02,235.24 124.15,235.24 124.29,235.24 124.43,235.23 124.56,235.23 124.70,235.23 124.83,235.23 124.97,235.23 125.11,235.23 125.24,235.22 125.38,235.22 125.52,235.22 125.65,235.21 125.79,235.21 125.93,235.21 126.06,235.20 126.20,235.20 126.34,235.19 126.47,235.19 126.61,235.18 126.74,235.18 126.88,235.17 127.02,235.16 127.15,235.16 127.29,235.15 127.43,235.14 127.56,235.13 127.70,235.13 127.84,235.12 127.97,235.11 128.11,235.10 128.25,235.08 128.38,235.07 128.52,235.06 128.66,235.05 128.79,235.04 128.93,235.02 129.06,235.01 129.20,234.99 129.34,234.97 129.47,234.96 129.61,234.94 129.75,234.92 129.88,234.90 130.02,234.88 130.16,234.86 130.29,234.84 130.43,234.81 130.57,234.79 130.70,234.76 130.84,234.74 130.97,234.71 131.11,234.68 131.25,234.65 131.38,234.62 131.52,234.58 131.66,234.55 131.79,234.51 131.93,234.47 132.07,234.43 132.20,234.39 132.34,234.34 132.48,234.29 132.61,234.24 132.75,234.19 132.89,234.14 133.02,234.08 133.16,234.02 133.29,233.95 133.43,233.89 133.57,233.81 133.70,233.74 133.84,233.66 133.98,233.57 134.11,233.48 134.25,233.38 134.39,233.28 134.52,233.16 134.66,233.04 134.80,232.91 134.93,232.77 135.07,232.61 135.20,232.44 135.34,232.25 135.48,232.05 135.61,231.82 135.75,231.56 135.89,231.27 136.02,230.95 136.16,230.57 136.30,230.14 136.43,229.63 136.57,229.03 136.71,228.30 136.84,227.41 136.98,226.30 137.11,224.90 137.25,223.09 137.39,220.78 137.52,217.92 137.61,216.10 137.66,214.97 137.80,213.22 137.82,213.17 137.93,214.02 138.07,216.70 138.21,219.69 138.34,222.23 138.48,224.23 138.62,225.78 138.75,226.99 138.89,227.96 139.03,228.75 139.16,229.39 139.30,229.94 139.43,230.40 139.57,230.79 139.71,231.14 139.84,231.44 139.98,231.71 140.12,231.95 140.25,232.16 140.39,232.36 140.53,232.53 140.66,232.69 140.80,232.84 140.94,232.97 141.07,233.10 141.21,233.21 141.34,233.32 141.48,233.42 141.62,233.51 141.75,233.60 141.89,233.68 142.03,233.76 142.16,233.83 142.30,233.90 142.44,233.96 142.57,234.02 142.71,234.08 142.85,234.13 142.98,234.18 143.12,234.23 143.26,234.27 143.39,234.32 143.53,234.36 143.66,234.40 143.80,234.43 143.94,234.47 144.07,234.50 144.21,234.53 144.35,234.56 144.48,234.59 144.62,234.61 144.76,234.64 144.89,234.66 145.03,234.68 145.17,234.70 145.30,234.72 145.44,234.74 145.57,234.75 145.71,234.77 145.85,234.78 145.98,234.79 146.12,234.80 146.26,234.81 146.39,234.82 146.53,234.83 146.67,234.84 146.80,234.84 146.94,234.85 147.08,234.85 147.21,234.85 147.35,234.85 147.49,234.85 147.62,234.85 147.76,234.85 147.89,234.85 148.03,234.84 148.17,234.84 148.30,234.83 148.44,234.82 148.58,234.81 148.71,234.80 148.85,234.78 148.99,234.77 149.12,234.75 149.26,234.73 149.40,234.71 149.53,234.69 149.67,234.66 149.80,234.64 149.94,234.60 150.08,234.57 150.21,234.53 150.35,234.49 150.49,234.44 150.62,234.38 150.76,234.32 150.90,234.25 151.03,234.17 151.17,234.08 151.31,233.97 151.44,233.84 151.58,233.69 151.72,233.50 151.85,233.28 151.99,233.00 152.12,232.65 152.26,232.20 152.40,231.64 152.53,230.99 152.67,230.38 152.81,230.11 152.94,230.38 153.08,230.99 153.22,231.65 153.35,232.21 153.49,232.66 153.63,233.02 153.76,233.30 153.90,233.53 154.03,233.71 154.17,233.87 154.31,234.00 154.44,234.11 154.58,234.21 154.72,234.29 154.85,234.37 154.99,234.43 155.13,234.49 155.26,234.55 155.40,234.59 155.54,234.64 155.67,234.68 155.81,234.71 155.95,234.75 156.08,234.78 156.22,234.81 156.35,234.84 156.49,234.86 156.63,234.88 156.76,234.91 156.90,234.93 157.04,234.95 157.17,234.97 157.31,234.98 157.45,235.00 157.58,235.02 157.72,235.03 157.86,235.04 157.99,235.06 158.13,235.07 158.26,235.08 158.40,235.09 158.54,235.11 158.67,235.12 158.81,235.13 158.95,235.14 159.08,235.14 159.22,235.15 159.36,235.16 159.49,235.17 159.63,235.18 159.77,235.18 159.90,235.19 160.04,235.20 160.18,235.20 160.31,235.21 160.45,235.22 160.58,235.22 160.72,235.23 160.86,235.23 160.99,235.24 161.13,235.24 161.27,235.25 161.40,235.25 161.54,235.25 161.68,235.26 161.81,235.26 161.95,235.27 162.09,235.27 162.22,235.27 162.36,235.28 162.49,235.28 162.63,235.28 162.77,235.28 162.90,235.29 163.04,235.29 163.18,235.29 163.31,235.29 163.45,235.30 163.59,235.30 163.72,235.30 163.86,235.30 164.00,235.30 164.13,235.31 164.27,235.31 164.40,235.31 164.54,235.31 164.68,235.31 164.81,235.31 164.95,235.31 165.09,235.31 165.22,235.32 165.36,235.32 165.50,235.32 165.63,235.32 165.77,235.32 165.91,235.32 166.04,235.32 166.18,235.32 166.32,235.32 166.45,235.32 166.59,235.32 166.72,235.32 166.86,235.32 167.00,235.33 167.13,235.33 167.27,235.33 167.41,235.33 167.54,235.33 167.68,235.33 167.82,235.33 167.95,235.33 168.09,235.33 168.23,235.33 168.36,235.33 168.50,235.33 168.63,235.33 168.77,235.33 168.91,235.33 169.04,235.33 169.18,235.33 169.32,235.33 169.45,235.33 169.59,235.33 169.73,235.33 169.86,235.33 170.00,235.33 170.14,235.33 170.27,235.33 170.41,235.33 170.55,235.33 170.68,235.33 170.82,235.33 170.95,235.33 171.09,235.33 171.23,235.33 171.36,235.33 171.50,235.33 171.64,235.33 171.77,235.33 171.91,235.33 172.05,235.33 172.18,235.33 172.32,235.33 172.46,235.33 172.59,235.33 172.73,235.33 172.86,235.33 173.00,235.33 173.14,235.33 173.27,235.33 173.41,235.33 173.55,235.33 173.68,235.33 173.82,235.33 173.96,235.33 174.09,235.33 174.23,235.33 174.37,235.33 174.50,235.33 174.64,235.33 174.78,235.33 174.91,235.33 175.05,235.33 175.18,235.33 175.32,235.33 175.46,235.33 175.59,235.33 175.73,235.33 175.87,235.33 176.00,235.33 176.14,235.33 176.28,235.33 176.41,235.33 176.55,235.33 176.69,235.33 176.82,235.33 176.96,235.33 177.09,235.33 177.23,235.33 177.37,235.33 177.50,235.33 177.64,235.33 177.78,235.33 177.91,235.33 178.05,235.33 178.19,235.33 178.32,235.33 178.46,235.33 178.60,235.33 178.73,235.33 178.87,235.33 179.01,235.33 179.14,235.33 179.28,235.33 179.41,235.33 179.55,235.33 179.69,235.33 179.82,235.33 179.96,235.33 180.10,235.33 180.23,235.33 180.37,235.33 180.51,235.33 180.64,235.33 180.78,235.33 180.92,235.33 181.05,235.33 181.19,235.33 181.32,235.33 181.46,235.33 181.60,235.33 181.73,235.33 181.87,235.33 182.01,235.33 182.14,235.33 182.28,235.33 182.42,235.33 182.55,235.33 182.69,235.33 182.83,235.33 182.96,235.33 183.10,235.33 183.24,235.33 183.37,235.33 183.51,235.33 183.64,235.33 183.78,235.33 183.92,235.33 184.05,235.33 184.19,235.33 184.33,235.33 184.46,235.33 184.60,235.33 184.74,235.33 184.87,235.33 185.01,235.33 185.15,235.33 185.28,235.33 185.42,235.33 185.55,235.33 185.69,235.33 185.83,235.33 185.96,235.33 186.10,235.33 186.24,235.33 186.37,235.33 186.51,235.33 186.65,235.33 186.78,235.33 186.92,235.33 187.06,235.33 187.19,235.33 187.33,235.33 187.47,235.33 187.60,235.33 187.74,235.33 187.87,235.33 188.01,235.33 188.15,235.33 188.28,235.33 188.42,235.33 188.56,235.33 188.69,235.33 188.83,235.33 188.97,235.32 189.10,235.32 189.24,235.32 189.38,235.32 189.51,235.32 189.65,235.32 189.78,235.32 189.92,235.32 190.06,235.32 190.19,235.32 190.33,235.32 190.47,235.32 190.60,235.32 190.74,235.32 190.88,235.31 191.01,235.31 191.15,235.31 191.29,235.31 191.42,235.31 191.56,235.31 191.69,235.31 191.83,235.31 191.97,235.30 192.10,235.30 192.24,235.30 192.38,235.30 192.51,235.30 192.65,235.30 192.79,235.29 192.92,235.29 193.06,235.29 193.20,235.29 193.33,235.29 193.47,235.28 193.61,235.28 193.74,235.28 193.88,235.28 194.01,235.27 194.15,235.27 194.29,235.27 194.42,235.26 194.56,235.26 194.70,235.26 194.83,235.25 194.97,235.25 195.11,235.24 195.24,235.24 195.38,235.24 195.52,235.23 195.65,235.23 195.79,235.22 195.92,235.22 196.06,235.21 196.20,235.20 196.33,235.20 196.47,235.19 196.61,235.18 196.74,235.18 196.88,235.17 197.02,235.16 197.15,235.15 197.29,235.14 197.43,235.13 197.56,235.12 197.70,235.11 197.84,235.10 197.97,235.09 198.11,235.08 198.24,235.06 198.38,235.05 198.52,235.03 198.65,235.01 198.79,234.99 198.93,234.97 199.06,234.95 199.20,234.93 199.34,234.90 199.47,234.87 199.61,234.83 199.75,234.79 199.88,234.75 200.02,234.70 200.15,234.64 200.29,234.57 200.43,234.49 200.56,234.39 200.70,234.27 200.84,234.14 200.97,233.98 201.11,233.80 201.25,233.61 201.38,233.46 201.52,233.41 201.66,233.46 201.79,233.61 201.93,233.80 202.07,233.98 202.20,234.14 202.34,234.27 202.47,234.39 202.61,234.49 202.75,234.57 202.88,234.64 203.02,234.70 203.16,234.75 203.29,234.79 203.43,234.83 203.57,234.87 203.70,234.90 203.84,234.93 203.98,234.95 204.11,234.97 204.25,234.99 204.38,235.01 204.52,235.03 204.66,235.05 204.79,235.06 204.93,235.08 205.07,235.09 205.20,235.10 205.34,235.11 205.48,235.12 205.61,235.13 205.75,235.14 205.89,235.15 206.02,235.16 206.16,235.17 206.30,235.18 206.43,235.18 206.57,235.19 206.70,235.20 206.84,235.20 206.98,235.21 207.11,235.22 207.25,235.22 207.39,235.23 207.52,235.23 207.66,235.24 207.80,235.24 207.93,235.24 208.07,235.25 208.21,235.25 208.34,235.26 208.48,235.26 208.61,235.26 208.75,235.27 208.89,235.27 209.02,235.27 209.16,235.28 209.30,235.28 209.43,235.28 209.57,235.28 209.71,235.29 209.84,235.29 209.98,235.29 210.12,235.29 210.25,235.29 210.39,235.30 210.53,235.30 210.66,235.30 210.80,235.30 210.93,235.30 211.07,235.30 211.21,235.31 211.34,235.31 211.48,235.31 211.62,235.31 211.75,235.31 211.89,235.31 212.03,235.31 212.16,235.31 212.30,235.32 212.44,235.32 212.57,235.32 212.71,235.32 212.84,235.32 212.98,235.32 213.12,235.32 213.25,235.32 213.39,235.32 213.53,235.32 213.66,235.32 213.80,235.32 213.94,235.32 214.07,235.32 214.21,235.33 214.35,235.33 214.48,235.33 214.62,235.33 214.76,235.33 214.89,235.33 215.03,235.33 215.16,235.33 215.30,235.33 215.44,235.33 215.57,235.33 215.71,235.33 215.85,235.33 215.98,235.33 216.12,235.33 216.26,235.33 216.39,235.33 216.53,235.33 216.67,235.33 216.80,235.33 216.94,235.33 217.07,235.33 217.21,235.33 217.35,235.33 217.48,235.33 217.62,235.33 217.76,235.33 217.89,235.33 218.03,235.33 218.17,235.33 218.30,235.33 218.44,235.33 218.58,235.33 218.71,235.33 218.85,235.33 218.98,235.33 219.12,235.33 219.26,235.33 219.39,235.33 219.53,235.33 219.67,235.33 219.80,235.33 219.94,235.33 220.08,235.33 220.21,235.33 220.35,235.33 220.49,235.33 220.62,235.33 220.76,235.33 220.90,235.33 221.03,235.33 221.17,235.33 221.30,235.33 221.44,235.33 221.58,235.33 221.71,235.33 221.85,235.33 221.99,235.33 222.12,235.33 222.26,235.33 222.40,235.33 222.53,235.33 222.67,235.33 222.81,235.33 222.94,235.33 223.08,235.33 223.21,235.33 223.35,235.33 223.49,235.33 223.62,235.33 223.76,235.33 223.90,235.33 224.03,235.33 224.17,235.33 224.31,235.33 224.44,235.33 224.58,235.33 224.72,235.33 224.85,235.33 224.99,235.33 225.13,235.33 225.26,235.33 225.40,235.33 225.53,235.33 225.67,235.33 225.81,235.33 225.94,235.33 226.08,235.33 226.22,235.33 226.35,235.33 226.49,235.33 226.63,235.33 226.76,235.33 226.90,235.33 227.04,235.33 227.17,235.33 227.31,235.33 227.44,235.33 227.58,235.33 227.72,235.33 227.85,235.33 227.99,235.33 228.13,235.33 228.26,235.33 228.40,235.33 228.54,235.33 228.67,235.33 228.81,235.33 228.95,235.33 229.08,235.33 229.22,235.33 229.36,235.33 229.49,235.33 229.63,235.33 229.76,235.33 229.90,235.33 230.04,235.33 230.17,235.33 230.31,235.33 230.45,235.33 230.58,235.33 230.72,235.33 230.86,235.33 230.99,235.33 231.13,235.33 231.27,235.33 231.40,235.33 231.54,235.33 231.67,235.33 231.81,235.33 231.95,235.33 232.08,235.33 232.22,235.33 232.36,235.33 232.49,235.33 232.63,235.33 232.77,235.33 232.90,235.33 233.04,235.33 233.18,235.33 233.31,235.33 233.45,235.33 233.59,235.33 233.72,235.33 233.86,235.33 233.99,235.33 234.13,235.33 234.27,235.33 234.40,235.33 234.54,235.33 234.68,235.33 234.81,235.33 234.95,235.33 235.09,235.33 235.22,235.33 235.36,235.33 235.50,235.33 235.63,235.33 235.77,235.33 235.90,235.33 236.04,235.33 236.18,235.33 236.31,235.33 236.45,235.33 236.59,235.33 236.72,235.33 236.86,235.33 237.00,235.33 237.13,235.33 237.27,235.33 237.41,235.33 237.54,235.33 237.68,235.33 237.82,235.33 237.95,235.33 238.09,235.33 238.22,235.33 238.36,235.33 238.50,235.33 238.63,235.33 238.77,235.33 238.91,235.33 239.04,235.33 239.18,235.33 239.32,235.33 239.45,235.33 239.59,235.33 239.73,235.33 239.86,235.33 240.00,235.33 240.13,235.33 240.27,235.33 240.41,235.33 240.54,235.33 240.68,235.33 240.82,235.33 240.95,235.33 241.09,235.33 241.23,235.33 241.36,235.33 241.50,235.33 241.64,235.33 241.77,235.33 241.91,235.33 242.05,235.33 242.18,235.33 242.32,235.33 242.45,235.33 242.59,235.33 242.73,235.33 242.86,235.33 243.00,235.33 243.14,235.33 243.27,235.33 243.41,235.33 243.55,235.33 243.68,235.33 243.82,235.33 243.96,235.33 244.09,235.33 244.23,235.33 244.36,235.33 244.50,235.33 244.64,235.33 244.77,235.33 244.91,235.33 245.05,235.33 245.18,235.33 245.32,235.33 245.46,235.33 245.59,235.33 245.73,235.33 245.87,235.33 246.00,235.33 246.14,235.33 246.27,235.33 246.41,235.33 246.55,235.33 246.68,235.33 246.82,235.33 246.96,235.33 247.09,235.33 247.23,235.33 247.37,235.33 247.50,235.33 247.64,235.33 247.78,235.33 247.91,235.33 248.05,235.33 248.19,235.33 248.32,235.33 248.46,235.33 248.59,235.33 248.73,235.33 248.87,235.33 249.00,235.33 249.14,235.33 249.28,235.33 249.41,235.33 249.55,235.33 249.69,235.33 249.82,235.33 249.96,235.33 250.10,235.33 250.23,235.33 250.37,235.33 250.50,235.33 250.64,235.33 250.78,235.33 250.91,235.33 251.05,235.33 251.19,235.33 251.32,235.33 251.46,235.33 251.60,235.33 251.73,235.33 251.87,235.33 252.01,235.33 252.14,235.33 252.28,235.33 252.42,235.33 252.55,235.33 252.69,235.33 252.82,235.33 252.96,235.33 253.10,235.33 253.23,235.33 253.37,235.33 253.51,235.33 253.64,235.33 253.78,235.33 253.92,235.33 254.05,235.33 254.19,235.33 254.33,235.33 254.46,235.33 254.60,235.33 254.73,235.33 254.87,235.33 255.01,235.33 255.14,235.33 255.28,235.33 255.42,235.33 255.55,235.33 255.69,235.33 255.83,235.33 255.96,235.33 256.10,235.33 256.24,235.33 256.37,235.33 256.51,235.33 256.65,235.33 256.78,235.33 256.92,235.33 257.05,235.33 257.19,235.33 257.33,235.33 257.46,235.33 257.60,235.33 257.74,235.33 257.87,235.33 258.01,235.33 258.15,235.33 258.28,235.33 258.42,235.33 258.56,235.33 258.69,235.33 258.83,235.33 258.96,235.33 259.10,235.33 259.24,235.33 259.37,235.33 259.51,235.33 259.65,235.33 259.78,235.33 259.92,235.33 260.06,235.33 260.19,235.33 260.33,235.33 260.47,235.33 260.60,235.33 260.74,235.33 260.88,235.33 261.01,235.33 261.15,235.33 261.28,235.33 261.42,235.33 261.56,235.33 261.69,235.33 261.83,235.33 261.97,235.33 262.10,235.33 262.24,235.33 262.38,235.33 262.51,235.33 262.65,235.33 262.79,235.33 262.92,235.33 263.06,235.33 263.19,235.33 263.33,235.33 263.47,235.33 263.60,235.33 263.74,235.33 263.88,235.33 264.01,235.33 264.15,235.33 264.29,235.33 264.42,235.33 264.56,235.33 264.70,235.33 264.83,235.33 264.97,235.33 265.11,235.33 265.24,235.33 265.38,235.33 265.51,235.33 265.65,235.33 265.79,235.33 265.92,235.33 266.06,235.33 266.20,235.33 266.33,235.33 266.47,235.33 266.61,235.33 266.74,235.33 266.88,235.33 267.02,235.33 267.15,235.33 267.29,235.33 267.42,235.33 267.56,235.33 267.70,235.33 267.83,235.33 267.97,235.33 268.11,235.33 268.24,235.33 268.38,235.33 268.52,235.33 268.65,235.33 268.79,235.33 268.93,235.33 269.06,235.33 269.20,235.33 269.34,235.33 269.47,235.33 269.61,235.33 269.74,235.33 269.88,235.33 270.02,235.33 270.15,235.33 270.29,235.33 270.43,235.33 270.56,235.33 270.70,235.33 270.84,235.33 270.97,235.33 271.11,235.33 271.25,235.33 271.38,235.33 271.52,235.33 271.65,235.33 271.79,235.33 271.93,235.33 272.06,235.33 272.20,235.33 272.34,235.33 272.47,235.33 272.61,235.33 272.75,235.33 272.88,235.33 273.02,235.33 273.16,235.33 273.29,235.33 273.43,235.33 273.56,235.33 273.70,235.33 273.84,235.33 273.97,235.33 274.11,235.33 274.25,235.33 274.38,235.33 274.52,235.33 274.66,235.33 274.79,235.33 274.93,235.33 275.07,235.33 275.20,235.33 275.34,235.33 275.48,235.33 275.61,235.33 275.75,235.33 275.88,235.33 276.02,235.33 276.16,235.33 276.29,235.33 276.43,235.33 276.57,235.33 276.70,235.33 276.84,235.33 276.98,235.33 277.11,235.33 277.25,235.33 277.39,235.33 277.52,235.33 277.66,235.33 277.79,235.33 277.93,235.33 278.07,235.33 278.20,235.33 278.34,235.33 278.48,235.33 278.61,235.33 278.75,235.33 278.89,235.33 279.02,235.33 279.16,235.33 279.30,235.33 279.43,235.33 279.57,235.33 279.71,235.33 279.84,235.33 279.98,235.33 280.11,235.33 280.25,235.33 280.39,235.33 280.52,235.33 280.66,235.33 280.80,235.33 280.93,235.33 281.07,235.33 281.21,235.33 281.34,235.33 281.48,235.33 281.62,235.33 281.75,235.33 281.89,235.33 282.02,235.33 282.16,235.33 282.30,235.33 282.43,235.33 282.57,235.33 282.71,235.33 282.84,235.33 282.98,235.33 283.12,235.33 283.25,235.33 283.39,235.33 283.53,235.33 283.66,235.33 283.80,235.33 283.94,235.33 284.07,235.33 284.21,235.33 284.34,235.33 284.48,235.33 284.62,235.33 284.75,235.33 284.89,235.33 285.03,235.33 285.16,235.33 285.30,235.33 285.44,235.33 285.57,235.33 285.71,235.33 285.85,235.33 285.98,235.33 286.12,235.33 286.25,235.33 286.39,235.33 286.53,235.33 286.66,235.33 286.80,235.33 286.94,235.33 287.07,235.33 287.21,235.33 287.35,235.33 287.48,235.33 287.62,235.33 287.76,235.33 287.89,235.33 288.03,235.33 288.17,235.33 288.30,235.33 288.44,235.33 288.57,235.33 288.71,235.33 288.85,235.33 288.98,235.33 289.12,235.33 289.26,235.33 289.39,235.33 289.53,235.33 289.67,235.33 289.80,235.33 289.94,235.33 290.08,235.33 290.21,235.33 290.35,235.33 290.48,235.33 290.62,235.33 290.76,235.33 290.89,235.33 291.03,235.33 291.17,235.33 291.30,235.33 291.44,235.33 291.58,235.33 291.71,235.33 291.85,235.33 291.99,235.33 292.12,235.33 292.26,235.33 292.40,235.33 292.53,235.33 292.67,235.33 292.80,235.33 292.94,235.33 293.08,235.33 293.21,235.33 293.35,235.33 293.49,235.33 293.62,235.33 293.76,235.33 293.90,235.33 294.03,235.33 294.17,235.33 294.31,235.33 294.44,235.33 294.58,235.33 294.71,235.33 294.85,235.33 294.99,235.33 295.12,235.33 295.26,235.33 295.40,235.33 295.53,235.33 295.67,235.33 295.81,235.33 295.94,235.33 296.08,235.33 296.22,235.33 296.35,235.33 296.49,235.33 296.63,235.33 296.76,235.33 296.90,235.33 297.03,235.33 297.17,235.33 297.31,235.33 297.44,235.33 297.58,235.33 297.72,235.33 297.85,235.33 297.99,235.33 298.13,235.33 298.26,235.33 298.40,235.33 298.54,235.33 298.67,235.33 298.81,235.33 298.94,235.33 299.08,235.33 299.22,235.33 299.35,235.33 299.49,235.33 299.63,235.33 299.76,235.33 299.90,235.33 300.04,235.33 300.17,235.33 300.31,235.33 300.45,235.33 300.58,235.33 300.72,235.33 300.86,235.33 300.99,235.33 301.13,235.33 301.26,235.33 301.40,235.33 301.54,235.33 301.67,235.33 301.81,235.33 301.95,235.33 302.08,235.33 302.22,235.33 302.36,235.33 302.49,235.33 302.63,235.33 302.77,235.33 302.90,235.33 303.04,235.33 303.17,235.33 303.31,235.33 303.45,235.33 303.58,235.33 303.72,235.33 303.86,235.33 303.99,235.33 304.13,235.33 304.27,235.33 304.40,235.33 304.54,235.33 304.68,235.33 304.81,235.33 304.95,235.33 305.08,235.33 305.22,235.33 305.36,235.33 305.49,235.33 305.63,235.33 305.77,235.33 305.90,235.33 306.04,235.33 306.18,235.33 306.31,235.33 306.45,235.33 306.59,235.33 306.72,235.33 306.86,235.33 307.00,235.33 307.13,235.33 307.27,235.33 307.40,235.33 307.54,235.33 307.68,235.33 307.81,235.33 307.95,235.33 308.09,235.33 308.22,235.33 308.36,235.33 308.50,235.33 308.63,235.33 308.77,235.33 308.91,235.33 309.04,235.33 309.18,235.33 309.31,235.33 309.45,235.33 309.59,235.33 309.72,235.33 309.86,235.33 310.00,235.33 310.13,235.33 310.27,235.33 310.41,235.33 310.54,235.33 310.68,235.33 310.82,235.33 310.95,235.33 311.09,235.33 311.23,235.33 311.36,235.33 311.50,235.33 311.63,235.33 311.77,235.33 311.91,235.33 312.04,235.33 312.18,235.33 312.32,235.33 312.45,235.33 312.59,235.33 312.73,235.33 312.86,235.33 313.00,235.33 313.14,235.33 313.27,235.33 313.41,235.33 313.54,235.33 313.68,235.33 313.82,235.33 313.95,235.33 314.09,235.33 314.23,235.33 314.36,235.33 314.50,235.33" stroke="#55aa4c" stroke-width="1.6"/>
<polyline points="41.60,226.37 41.74,227.06 41.87,227.70 42.01,228.29 42.15,228.83 42.28,229.33 42.42,229.78 42.56,230.20 42.69,230.59 42.83,230.95 42.96,231.27 43.10,231.57 43.24,231.85 43.37,232.11 43.51,232.34 43.65,232.56 43.78,232.76 43.92,232.94 44.06,233.11 44.19,233.26 44.33,233.40 44.47,233.53 44.60,233.65 44.74,233.77 44.87,233.87 45.01,233.96 45.15,234.05 45.28,234.13 45.42,234.20 45.56,234.27 45.69,234.33 45.83,234.38 45.97,234.44 46.10,234.49 46.24,234.53 46.38,234.57 46.51,234.61 46.65,234.64 46.79,234.67 46.92,234.70 47.06,234.73 47.19,234.75 47.33,234.78 47.47,234.80 47.60,234.82 47.74,234.83 47.88,234.85 48.01,234.86 48.15,234.88 48.29,234.89 48.42,234.90 48.56,234.91 48.70,234.92 48.83,234.93 48.97,234.94 49.10,234.95 49.24,234.95 49.38,234.96 49.51,234.96 49.65,234.97 49.79,234.97 49.92,234.98 50.06,234.98 50.20,234.99 50.33,234.99 50.47,234.99 50.61,234.99 50.74,235.00 50.88,235.00 51.02,235.00 51.15,235.00 51.29,235.00 51.42,235.01 51.56,235.01 51.70,235.01 51.83,235.01 51.97,235.01 52.11,235.01 52.24,235.01 52.38,235.01 52.52,235.01 52.65,235.01 52.79,235.01 52.93,235.01 53.06,235.01 53.20,235.01 53.33,235.01 53.47,235.01 53.61,235.01 53.74,235.01 53.88,235.01 54.02,235.01 54.15,235.01 54.29,235.01 54.43,235.01 54.56,235.01 54.70,235.00 54.84,235.00 54.97,235.00 55.11,235.00 55.24,235.00 55.38,235.00 55.52,235.00 55.65,235.00 55.79,235.00 55.93,235.00 56.06,234.99 56.20,234.99 56.34,234.99 56.47,234.99 56.61,234.99 56.75,234.99 56.88,234.98 57.02,234.98 57.16,234.98 57.29,234.98 57.43,234.98 57.56,234.98 57.70,234.97 57.84,234.97 57.97,234.97 58.11,234.97 58.25,234.97 58.38,234.96 58.52,234.96 58.66,234.96 58.79,234.96 58.93,234.95 59.07,234.95 59.20,234.95 59.34,234.95 59.47,234.94 59.61,234.94 59.75,234.94 59.88,234.94 60.02,234.93 60.16,234.93 60.29,234.93 60.43,234.92 60.57,234.92 60.70,234.92 60.84,234.91 60.98,234.91 61.11,234.91 61.25,234.90 61.39,234.90 61.52,234.89 61.66,234.89 61.79,234.89 61.93,234.88 62.07,234.88 62.20,234.87 62.34,234.87 62.48,234.86 62.61,234.86 62.75,234.85 62.89,234.85 63.02,234.84 63.16,234.84 63.30,234.83 63.43,234.83 63.57,234.82 63.70,234.82 63.84,234.81 63.98,234.81 64.11,234.80 64.25,234.79 64.39,234.79 64.52,234.78 64.66,234.77 64.80,234.77 64.93,234.76 65.07,234.75 65.21,234.75 65.34,234.74 65.48,234.73 65.62,234.72 65.75,234.72 65.89,234.71 66.02,234.70 66.16,234.69 66.30,234.68 66.43,234.68 66.57,234.67 66.71,234.66 66.84,234.65 66.98,234.64 67.12,234.63 67.25,234.62 67.39,234.61 67.53,234.60 67.66,234.59 67.80,234.58 67.93,234.57 68.07,234.56 68.21,234.55 68.34,234.53 68.48,234.52 68.62,234.51 68.75,234.50 68.89,234.49 69.03,234.47 69.16,234.46 69.30,234.45 69.44,234.43 69.57,234.42 69.71,234.41 69.85,234.39 69.98,234.38 70.12,234.36 70.25,234.35 70.39,234.33 70.53,234.32 70.66,234.30 70.80,234.28 70.94,234.27 71.07,234.25 71.21,234.23 71.35,234.22 71.48,234.20 71.62,234.18 71.76,234.16 71.89,234.14 72.03,234.12 72.16,234.10 72.30,234.08 72.44,234.06 72.57,234.04 72.71,234.02 72.85,234.00 72.98,233.98 73.12,233.95 73.26,233.93 73.39,233.91 73.53,233.88 73.67,233.86 73.80,233.83 73.94,233.81 74.08,233.78 74.21,233.76 74.35,233.73 74.48,233.70 74.62,233.68 74.76,233.65 74.89,233.62 75.03,233.59 75.17,233.56 75.30,233.53 75.44,233.50 75.58,233.47 75.71,233.43 75.85,233.40 75.99,233.37 76.12,233.33 76.26,233.30 76.39,233.26 76.53,233.23 76.67,233.19 76.80,233.15 76.94,233.11 77.08,233.07 77.21,233.03 77.35,232.99 77.49,232.95 77.62,232.91 77.76,232.86 77.90,232.82 78.03,232.77 78.17,232.73 78.31,232.68 78.44,232.63 78.58,232.58 78.71,232.53 78.85,232.48 78.99,232.42 79.12,232.37 79.26,232.32 79.40,232.26 79.53,232.20 79.67,232.14 79.81,232.08 79.94,232.02 80.08,231.95 80.22,231.89 80.35,231.82 80.49,231.75 80.62,231.68 80.76,231.61 80.90,231.54 81.03,231.46 81.17,231.38 81.31,231.30 81.44,231.22 81.58,231.14 81.72,231.05 81.85,230.96 81.99,230.87 82.13,230.77 82.26,230.68 82.40,230.57 82.53,230.47 82.67,230.36 82.81,230.25 82.94,230.14 83.08,230.02 83.22,229.90 83.35,229.77 83.49,229.64 83.63,229.50 83.76,229.36 83.90,229.22 84.04,229.07 84.17,228.91 84.31,228.74 84.45,228.57 84.58,228.39 84.72,228.21 84.85,228.01 84.99,227.81 85.13,227.59 85.26,227.37 85.40,227.14 85.54,226.89 85.67,226.63 85.81,226.35 85.95,226.06 86.08,225.75 86.22,225.43 86.36,225.08 86.49,224.71 86.63,224.32 86.76,223.90 86.90,223.44 87.04,222.96 87.17,222.43 87.31,221.86 87.45,221.25 87.58,220.57 87.72,219.84 87.86,219.02 87.99,218.13 88.13,217.13 88.27,216.02 88.40,214.76 88.54,213.34 88.68,211.71 88.81,209.83 88.95,207.63 89.08,205.02 89.22,201.88 89.36,198.04 89.49,193.23 89.63,187.05 89.77,178.84 89.90,167.50 90.04,151.06 90.18,126.12 90.31,88.64 90.45,48.83 90.50,43.50 90.59,54.91 90.72,97.15 90.86,132.00 90.99,154.89 91.13,170.10 91.27,180.69 91.40,188.43 91.54,194.29 91.68,198.88 91.81,202.56 91.95,205.58 92.09,208.10 92.22,210.23 92.36,212.05 92.50,213.64 92.63,215.03 92.77,216.25 92.91,217.34 93.04,218.31 93.18,219.19 93.31,219.99 93.45,220.71 93.59,221.37 93.72,221.98 93.86,222.54 94.00,223.06 94.13,223.54 94.27,223.98 94.41,224.40 94.54,224.79 94.68,225.15 94.82,225.49 94.95,225.82 95.09,226.12 95.22,226.41 95.36,226.68 95.50,226.94 95.63,227.18 95.77,227.42 95.91,227.64 96.04,227.85 96.18,228.05 96.32,228.25 96.45,228.43 96.59,228.61 96.73,228.78 96.86,228.94 97.00,229.10 97.14,229.25 97.27,229.39 97.41,229.53 97.54,229.67 97.68,229.80 97.82,229.92 97.95,230.04 98.09,230.16 98.23,230.28 98.36,230.39 98.50,230.49 98.64,230.59 98.77,230.70 98.91,230.79 99.05,230.89 99.18,230.98 99.32,231.07 99.45,231.15 99.59,231.24 99.73,231.32 99.86,231.40 100.00,231.48 100.14,231.55 100.27,231.63 100.41,231.70 100.55,231.77 100.68,231.84 100.82,231.90 100.96,231.97 101.09,232.03 101.23,232.09 101.37,232.15 101.50,232.21 101.64,232.27 101.77,232.33 101.91,232.38 102.05,232.44 102.18,232.49 102.32,232.54 102.46,232.59 102.59,232.64 102.73,232.69 102.87,232.74 103.00,232.78 103.14,232.83 103.28,232.87 103.41,232.92 103.55,232.96 103.68,233.00 103.82,233.04 103.96,233.08 104.09,233.12 104.23,233.16 104.37,233.20 104.50,233.23 104.64,233.27 104.78,233.30 104.91,233.34 105.05,233.37 105.19,233.41 105.32,233.44 105.46,233.47 105.60,233.50 105.73,233.53 105.87,233.57 106.00,233.60 106.14,233.62 106.28,233.65 106.41,233.68 106.55,233.71 106.69,233.74 106.82,233.76 106.96,233.79 107.10,233.81 107.23,233.84 107.37,233.86 107.51,233.89 107.64,233.91 107.78,233.94 107.91,233.96 108.05,233.98 108.19,234.00 108.32,234.02 108.46,234.05 108.60,234.07 108.73,234.09 108.87,234.11 109.01,234.13 109.14,234.15 109.28,234.16 109.42,234.18 109.55,234.20 109.69,234.22 109.82,234.24 109.96,234.26 110.10,234.28 110.23,234.30 110.37,234.32 110.51,234.34 110.64,234.36 110.78,234.38 110.92,234.40 111.05,234.41 111.19,234.43 111.33,234.45 111.46,234.47 111.60,234.49 111.74,234.50 111.87,234.52 112.01,234.54 112.14,234.55 112.28,234.57 112.42,234.59 112.55,234.60 112.69,234.62 112.83,234.63 112.96,234.65 113.10,234.66 113.24,234.68 113.37,234.69 113.51,234.71 113.65,234.72 113.78,234.73 113.92,234.75 114.05,234.76 114.19,234.77 114.33,234.79 114.46,234.80 114.60,234.81 114.74,234.82 114.87,234.84 115.01,234.85 115.15,234.86 115.28,234.87 115.42,234.88 115.56,234.90 115.69,234.91 115.83,234.92 115.97,234.93 116.10,234.94 116.24,234.95 116.37,234.96 116.51,234.97 116.65,234.98 116.78,234.99 116.92,235.00 117.06,235.01 117.19,235.02 117.33,235.03 117.47,235.04 117.60,235.05 117.74,235.06 117.88,235.07 118.01,235.08 118.15,235.08 118.28,235.09 118.42,235.10 118.56,235.11 118.69,235.12 118.83,235.13 118.97,235.13 119.10,235.14 119.24,235.15 119.38,235.16 119.51,235.16 119.65,235.17 119.79,235.18 119.92,235.19 120.06,235.19 120.20,235.20 120.33,235.21 120.47,235.21 120.60,235.22 120.74,235.23 120.88,235.23 121.01,235.24 121.15,235.25 121.29,235.25 121.42,235.26 121.56,235.26 121.70,235.27 121.83,235.28 121.97,235.28 122.11,235.29 122.24,235.29 122.38,235.30 122.51,235.30 122.65,235.31 122.79,235.31 122.92,235.32 123.06,235.32 123.20,235.32 123.33,235.33 123.47,235.33 123.61,235.34 123.74,235.34 123.88,235.34 124.02,235.35 124.15,235.35 124.29,235.35 124.43,235.35 124.56,235.36 124.70,235.36 124.83,235.36 124.97,235.36 125.11,235.36 125.24,235.36 125.38,235.37 125.52,235.37 125.65,235.37 125.79,235.37 125.93,235.37 126.06,235.36 126.20,235.36 126.34,235.36 126.47,235.36 126.61,235.36 126.74,235.36 126.88,235.35 127.02,235.35 127.15,235.34 127.29,235.34 127.43,235.34 127.56,235.33 127.70,235.32 127.84,235.32 127.97,235.31 128.11,235.30 128.25,235.29 128.38,235.28 128.52,235.28 128.66,235.26 128.79,235.25 128.93,235.24 129.06,235.23 129.20,235.22 129.34,235.20 129.47,235.19 129.61,235.17 129.75,235.15 129.88,235.13 130.02,235.12 130.16,235.09 130.29,235.07 130.43,235.05 130.57,235.03 130.70,235.00 130.84,234.98 130.97,234.95 131.11,234.92 131.25,234.89 131.38,234.85 131.52,234.82 131.66,234.78 131.79,234.75 131.93,234.71 132.07,234.66 132.20,234.62 132.34,234.57 132.48,234.52 132.61,234.47 132.75,234.41 132.89,234.36 133.02,234.29 133.16,234.23 133.29,234.16 133.43,234.09 133.57,234.01 133.70,233.93 133.84,233.84 133.98,233.74 134.11,233.64 134.25,233.53 134.39,233.42 134.52,233.29 134.66,233.16 134.80,233.01 134.93,232.85 135.07,232.67 135.20,232.48 135.34,232.26 135.48,232.03 135.61,231.76 135.75,231.46 135.89,231.11 136.02,230.72 136.16,230.25 136.30,229.70 136.43,229.04 136.57,228.21 136.71,227.18 136.84,225.82 136.98,223.97 137.11,221.33 137.25,217.34 137.39,211.19 137.52,203.51 137.61,201.35 137.66,202.30 137.80,209.44 137.82,210.93 137.93,215.91 138.07,220.09 138.21,222.76 138.34,224.54 138.48,225.76 138.62,226.60 138.75,227.18 138.89,227.55 139.03,227.73 139.16,227.73 139.30,227.53 139.43,227.08 139.57,226.28 139.71,224.96 139.84,222.85 139.98,219.96 140.12,218.24 140.25,220.30 140.39,223.54 140.53,226.01 140.66,227.70 140.80,228.90 140.94,229.79 141.07,230.47 141.21,231.02 141.34,231.46 141.48,231.84 141.62,232.16 141.75,232.43 141.89,232.67 142.03,232.89 142.16,233.08 142.30,233.26 142.44,233.42 142.57,233.56 142.71,233.70 142.85,233.82 142.98,233.93 143.12,234.04 143.26,234.14 143.39,234.23 143.53,234.32 143.66,234.40 143.80,234.48 143.94,234.55 144.07,234.62 144.21,234.68 144.35,234.74 144.48,234.80 144.62,234.86 144.76,234.91 144.89,234.96 145.03,235.00 145.17,235.05 145.30,235.09 145.44,235.13 145.57,235.17 145.71,235.20 145.85,235.24 145.98,235.27 146.12,235.30 146.26,235.33 146.39,235.36 146.53,235.38 146.67,235.41 146.80,235.43 146.94,235.45 147.08,235.47 147.21,235.49 147.35,235.50 147.49,235.52 147.62,235.53 147.76,235.55 147.89,235.56 148.03,235.57 148.17,235.58 148.30,235.58 148.44,235.59 148.58,235.59 148.71,235.60 148.85,235.60 148.99,235.60 149.12,235.60 149.26,235.59 149.40,235.59 149.53,235.58 149.67,235.57 149.80,235.56 149.94,235.55 150.08,235.53 150.21,235.51 150.35,235.48 150.49,235.46 150.62,235.42 150.76,235.38 150.90,235.34 151.03,235.28 151.17,235.21 151.31,235.14 151.44,235.04 151.58,234.93 151.72,234.80 151.85,234.64 151.99,234.43 152.12,234.17 152.26,233.84 152.40,233.43 152.53,232.95 152.67,232.50 152.81,232.30 152.94,232.51 153.08,232.96 153.22,233.45 153.35,233.87 153.49,234.20 153.63,234.47 153.76,234.68 153.90,234.85 154.03,234.99 154.17,235.10 154.31,235.20 154.44,235.28 154.58,235.36 154.72,235.42 154.85,235.48 154.99,235.52 155.13,235.57 155.26,235.61 155.40,235.65 155.54,235.68 155.67,235.71 155.81,235.74 155.95,235.76 156.08,235.79 156.22,235.81 156.35,235.83 156.49,235.85 156.63,235.86 156.76,235.88 156.90,235.90 157.04,235.91 157.17,235.93 157.31,235.94 157.45,235.95 157.58,235.96 157.72,235.97 157.86,235.98 157.99,235.99 158.13,236.00 158.26,236.01 158.40,236.02 158.54,236.03 158.67,236.04 158.81,236.05 158.95,236.05 159.08,236.06 159.22,236.07 159.36,236.07 159.49,236.08 159.63,236.08 159.77,236.09 159.90,236.09 160.04,236.10 160.18,236.10 160.31,236.11 160.45,236.11 160.58,236.12 160.72,236.12 160.86,236.13 160.99,236.13 161.13,236.13 161.27,236.14 161.40,236.14 161.54,236.14 161.68,236.14 161.81,236.15 161.95,236.15 162.09,236.15 162.22,236.16 162.36,236.16 162.49,236.16 162.63,236.16 162.77,236.16 162.90,236.17 163.04,236.17 163.18,236.17 163.31,236.17 163.45,236.17 163.59,236.17 163.72,236.18 163.86,236.18 164.00,236.18 164.13,236.18 164.27,236.18 164.40,236.18 164.54,236.18 164.68,236.18 164.81,236.18 164.95,236.19 165.09,236.19 165.22,236.19 165.36,236.19 165.50,236.19 165.63,236.19 165.77,236.19 165.91,236.19 166.04,236.19 166.18,236.19 166.32,236.19 166.45,236.19 166.59,236.19 166.72,236.19 166.86,236.19 167.00,236.19 167.13,236.19 167.27,236.20 167.41,236.20 167.54,236.20 167.68,236.20 167.82,236.20 167.95,236.20 168.09,236.20 168.23,236.20 168.36,236.20 168.50,236.20 168.63,236.20 168.77,236.20 168.91,236.20 169.04,236.20 169.18,236.20 169.32,236.20 169.45,236.20 169.59,236.20 169.73,236.20 169.86,236.20 170.00,236.20 170.14,236.20 170.27,236.20 170.41,236.20 170.55,236.20 170.68,236.20 170.82,236.20 170.95,236.20 171.09,236.20 171.23,236.20 171.36,236.20 171.50,236.20 171.64,236.20 171.77,236.20 171.91,236.20 172.05,236.20 172.18,236.20 172.32,236.20 172.46,236.20 172.59,236.20 172.73,236.20 172.86,236.20 173.00,236.20 173.14,236.20 173.27,236.20 173.41,236.20 173.55,236.20 173.68,236.20 173.82,236.20 173.96,236.20 174.09,236.20 174.23,236.20 174.37,236.20 174.50,236.20 174.64,236.20 174.78,236.20 174.91,236.20 175.05,236.20 175.18,236.20 175.32,236.20 175.46,236.20 175.59,236.20 175.73,236.20 175.87,236.20 176.00,236.20 176.14,236.20 176.28,236.20 176.41,236.20 176.55,236.20 176.69,236.20 176.82,236.20 176.96,236.20 177.09,236.20 177.23,236.20 177.37,236.20 177.50,236.20 177.64,236.20 177.78,236.20 177.91,236.20 178.05,236.20 178.19,236.20 178.32,236.20 178.46,236.20 178.60,236.20 178.73,236.20 178.87,236.20 179.01,236.20 179.14,236.20 179.28,236.20 179.41,236.20 179.55,236.20 179.69,236.20 179.82,236.20 179.96,236.20 180.10,236.20 180.23,236.20 180.37,236.20 180.51,236.20 180.64,236.20 180.78,236.20 180.92,236.20 181.05,236.20 181.19,236.20 181.32,236.20 181.46,236.20 181.60,236.20 181.73,236.20 181.87,236.20 182.01,236.20 182.14,236.20 182.28,236.20 182.42,236.20 182.55,236.20 182.69,236.20 182.83,236.20 182.96,236.20 183.10,236.20 183.24,236.20 183.37,236.20 183.51,236.20 183.64,236.20 183.78,236.20 183.92,236.20 184.05,236.20 184.19,236.20 184.33,236.20 184.46,236.20 184.60,236.20 184.74,236.20 184.87,236.20 185.01,236.20 185.15,236.20 185.28,236.20 185.42,236.20 185.55,236.20 185.69,236.20 185.83,236.20 185.96,236.20 186.10,236.20 186.24,236.20 186.37,236.20 186.51,236.20 186.65,236.20 186.78,236.20 186.92,236.20 187.06,236.20 187.19,236.20 187.33,236.20 187.47,236.20 187.60,236.20 187.74,236.20 187.87,236.20 188.01,236.20 188.15,236.20 188.28,236.20 188.42,236.20 188.56,236.20 188.69,236.20 188.83,236.20 188.97,236.20 189.10,236.20 189.24,236.20 189.38,236.20 189.51,236.20 189.65,236.20 189.78,236.20 189.92,236.20 190.06,236.20 190.19,236.20 190.33,236.20 190.47,236.20 190.60,236.20 190.74,236.20 190.88,236.20 191.01,236.20 191.15,236.20 191.29,236.20 191.42,236.20 191.56,236.20 191.69,236.20 191.83,236.20 191.97,236.20 192.10,236.20 192.24,236.20 192.38,236.20 192.51,236.20 192.65,236.20 192.79,236.20 192.92,236.20 193.06,236.20 193.20,236.20 193.33,236.20 193.47,236.20 193.61,236.20 193.74,236.20 193.88,236.20 194.01,236.20 194.15,236.20 194.29,236.20 194.42,236.20 194.56,236.20 194.70,236.20 194.83,236.20 194.97,236.20 195.11,236.20 195.24,236.20 195.38,236.20 195.52,236.20 195.65,236.20 195.79,236.20 195.92,236.20 196.06,236.20 196.20,236.20 196.33,236.20 196.47,236.20 196.61,236.20 196.74,236.20 196.88,236.20 197.02,236.20 197.15,236.20 197.29,236.15 197.43,236.07 197.56,235.96 197.70,235.84 197.84,235.71 197.97,235.57 198.11,235.42 198.24,235.26 198.38,235.09 198.52,234.92 198.65,234.73 198.79,234.54 198.93,234.35 199.06,234.15 199.20,233.94 199.34,233.72 199.47,233.50 199.61,233.28 199.75,233.05 199.88,232.81 200.02,232.58 200.15,232.33 200.29,232.08 200.43,231.83 200.56,231.57 200.70,231.31 200.84,231.05 200.97,230.78 201.11,230.51 201.25,230.23 201.38,229.95 201.52,229.66 201.66,229.38 201.79,229.08 201.93,228.79 202.07,228.49 202.20,229.78 202.34,231.06 202.47,232.35 202.61,233.63 202.75,234.92 202.88,236.20 203.02,236.20 203.16,236.20 203.29,236.20 203.43,236.20 203.57,236.20 203.70,236.20 203.84,236.20 203.98,236.20 204.11,236.20 204.25,236.20 204.38,236.20 204.52,236.20 204.66,236.20 204.79,236.20 204.93,236.20 205.07,236.20 205.20,236.20 205.34,236.20 205.48,236.20 205.61,236.20 205.75,236.20 205.89,236.20 206.02,236.20 206.16,236.20 206.30,236.20 206.43,236.20 206.57,236.20 206.70,236.20 206.84,236.20 206.98,236.20 207.11,236.20 207.25,236.20 207.39,236.20 207.52,236.20 207.66,236.20 207.80,236.20 207.93,236.20 208.07,236.20 208.21,236.20 208.34,236.20 208.48,236.20 208.61,236.20 208.75,236.20 208.89,236.20 209.02,236.20 209.16,236.20 209.30,236.20 209.43,236.20 209.57,236.20 209.71,236.20 209.84,236.20 209.98,236.20 210.12,236.20 210.25,236.20 210.39,236.20 210.53,236.20 210.66,236.20 210.80,236.20 210.93,236.20 211.07,236.20 211.21,236.20 211.34,236.20 211.48,236.20 211.62,236.20 211.75,236.20 211.89,236.20 212.03,236.20 212.16,236.20 212.30,236.20 212.44,236.20 212.57,236.20 212.71,236.20 212.84,236.20 212.98,236.20 213.12,236.20 213.25,236.20 213.39,236.20 213.53,236.20 213.66,236.20 213.80,236.20 213.94,236.20 214.07,236.20 214.21,236.20 214.35,236.20 214.48,236.20 214.62,236.20 214.76,236.20 214.89,236.20 215.03,236.20 215.16,236.20 215.30,236.20 215.44,236.20 215.57,236.20 215.71,236.20 215.85,236.20 215.98,236.20 216.12,236.20 216.26,236.20 216.39,236.20 216.53,236.20 216.67,236.20 216.80,236.20 216.94,236.20 217.07,236.20 217.21,236.20 217.35,236.20 217.48,236.20 217.62,236.20 217.76,236.20 217.89,236.20 218.03,236.20 218.17,236.20 218.30,236.20 218.44,236.20 218.58,236.20 218.71,236.20 218.85,236.20 218.98,236.20 219.12,236.20 219.26,236.20 219.39,236.20 219.53,236.20 219.67,236.20 219.80,236.20 219.94,236.20 220.08,236.20 220.21,236.20 220.35,236.20 220.49,236.20 220.62,236.20 220.76,236.20 220.90,236.20 221.03,236.20 221.17,236.20 221.30,236.20 221.44,236.20 221.58,236.20 221.71,236.20 221.85,236.20 221.99,236.20 222.12,236.20 222.26,236.20 222.40,236.20 222.53,236.20 222.67,236.20 222.81,236.20 222.94,236.20 223.08,236.20 223.21,236.20 223.35,236.20 223.49,236.20 223.62,236.20 223.76,236.20 223.90,236.20 224.03,236.20 224.17,236.20 224.31,236.20 224.44,236.20 224.58,236.20 224.72,236.20 224.85,236.20 224.99,236.20 225.13,236.20 225.26,236.20 225.40,236.20 225.53,236.20 225.67,236.20 225.81,236.20 225.94,236.20 226.08,236.20 226.22,236.20 226.35,236.20 226.49,236.20 226.63,236.20 226.76,236.20 226.90,236.20 227.04,236.20 227.17,236.20 227.31,236.20 227.44,236.20 227.58,236.20 227.72,236.20 227.85,236.20 227.99,236.20 228.13,236.20 228.26,236.20 228.40,236.20 228.54,236.20 228.67,236.20 228.81,236.20 228.95,236.20 229.08,236.20 229.22,236.20 229.36,236.20 229.49,236.20 229.63,236.20 229.76,236.20 229.90,236.20 230.04,236.20 230.17,236.20 230.31,236.20 230.45,236.20 230.58,236.20 230.72,236.20 230.86,236.20 230.99,236.20 231.13,236.20 231.27,236.20 231.40,236.20 231.54,236.20 231.67,236.20 231.81,236.20 231.95,236.20 232.08,236.20 232.22,236.20 232.36,236.20 232.49,236.20 232.63,236.20 232.77,236.20 232.90,236.20 233.04,236.20 233.18,236.20 233.31,236.20 233.45,236.20 233.59,236.20 233.72,236.20 233.86,236.20 233.99,236.20 234.13,236.20 234.27,236.20 234.40,236.20 234.54,236.20 234.68,236.20 234.81,236.20 234.95,236.20 235.09,236.20 235.22,236.20 235.36,236.20 235.50,236.20 235.63,236.20 235.77,236.20 235.90,236.20 236.04,236.20 236.18,236.20 236.31,236.20 236.45,236.20 236.59,236.20 236.72,236.20 236.86,236.20 237.00,236.20 237.13,236.20 237.27,236.20 237.41,236.20 237.54,236.20 237.68,236.20 237.82,236.20 237.95,236.20 238.09,236.20 238.22,236.20 238.36,236.20 238.50,236.20 238.63,236.20 238.77,236.20 238.91,236.20 239.04,236.20 239.18,236.20 239.32,236.20 239.45,236.20 239.59,236.20 239.73,236.20 239.86,236.20 240.00,236.20 240.13,236.20 240.27,236.20 240.41,236.20 240.54,236.20 240.68,236.20 240.82,236.20 240.95,236.20 241.09,236.20 241.23,236.20 241.36,236.20 241.50,236.20 241.64,236.20 241.77,236.20 241.91,236.20 242.05,236.20 242.18,236.20 242.32,236.20 242.45,236.20 242.59,236.20 242.73,236.20 242.86,236.20 243.00,236.20 243.14,236.20 243.27,236.20 243.41,236.20 243.55,236.20 243.68,236.20 243.82,236.20 243.96,236.20 244.09,236.20 244.23,236.20 244.36,236.20 244.50,236.20 244.64,236.20 244.77,236.20 244.91,236.20 245.05,236.20 245.18,236.20 245.32,236.20 245.46,236.20 245.59,236.20 245.73,236.20 245.87,236.20 246.00,236.20 246.14,236.20 246.27,236.20 246.41,236.20 246.55,236.20 246.68,236.20 246.82,236.20 246.96,236.20 247.09,236.20 247.23,236.20 247.37,236.20 247.50,236.20 247.64,236.20 247.78,236.20 247.91,236.20 248.05,236.20 248.19,236.20 248.32,236.20 248.46,236.20 248.59,236.20 248.73,236.20 248.87,236.20 249.00,236.20 249.14,236.20 249.28,236.20 249.41,236.20 249.55,236.20 249.69,236.20 249.82,236.20 249.96,236.20 250.10,236.20 250.23,236.20 250.37,236.20 250.50,236.20 250.64,236.20 250.78,236.20 250.91,236.20 251.05,236.20 251.19,236.20 251.32,236.20 251.46,236.20 251.60,236.20 251.73,236.20 251.87,236.20 252.01,236.20 252.14,236.20 252.28,236.20 252.42,236.20 252.55,236.20 252.69,236.20 252.82,236.20 252.96,236.20 253.10,236.20 253.23,236.20 253.37,236.20 253.51,236.20 253.64,236.20 253.78,236.20 253.92,236.20 254.05,236.20 254.19,236.20 254.33,236.20 254.46,236.20 254.60,236.20 254.73,236.20 254.87,236.20 255.01,236.20 255.14,236.20 255.28,236.20 255.42,236.20 255.55,236.20 255.69,236.20 255.83,236.20 255.96,236.20 256.10,236.20 256.24,236.20 256.37,236.20 256.51,236.20 256.65,236.20 256.78,236.20 256.92,236.20 257.05,236.20 257.19,236.20 257.33,236.20 257.46,236.20 257.60,236.20 257.74,236.20 257.87,236.20 258.01,236.20 258.15,236.20 258.28,236.20 258.42,236.20 258.56,236.20 258.69,236.20 258.83,236.20 258.96,236.20 259.10,236.20 259.24,236.20 259.37,236.20 259.51,236.20 259.65,236.20 259.78,236.20 259.92,236.20 260.06,236.20 260.19,236.20 260.33,236.20 260.47,236.20 260.60,236.20 260.74,236.20 260.88,236.20 261.01,236.20 261.15,236.20 261.28,236.20 261.42,236.20 261.56,236.20 261.69,236.20 261.83,236.20 261.97,236.20 262.10,236.20 262.24,236.20 262.38,236.20 262.51,236.20 262.65,236.20 262.79,236.20 262.92,236.20 263.06,236.20 263.19,236.20 263.33,236.20 263.47,236.20 263.60,236.20 263.74,236.20 263.88,236.20 264.01,236.20 264.15,236.20 264.29,236.20 264.42,236.20 264.56,236.20 264.70,236.20 264.83,236.20 264.97,236.20 265.11,236.20 265.24,236.20 265.38,236.20 265.51,236.20 265.65,236.20 265.79,236.20 265.92,236.20 266.06,236.20 266.20,236.20 266.33,236.20 266.47,236.20 266.61,236.20 266.74,236.20 266.88,236.20 267.02,236.20 267.15,236.20 267.29,236.20 267.42,236.20 267.56,236.20 267.70,236.20 267.83,236.20 267.97,236.20 268.11,236.20 268.24,236.20 268.38,236.20 268.52,236.20 268.65,236.20 268.79,236.20 268.93,236.20 269.06,236.20 269.20,236.20 269.34,236.20 269.47,236.20 269.61,236.20 269.74,236.20 269.88,236.20 270.02,236.20 270.15,236.20 270.29,236.20 270.43,236.20 270.56,236.20 270.70,236.20 270.84,236.20 270.97,236.20 271.11,236.20 271.25,236.20 271.38,236.20 271.52,236.20 271.65,236.20 271.79,236.20 271.93,236.20 272.06,236.20 272.20,236.20 272.34,236.20 272.47,236.20 272.61,236.20 272.75,236.20 272.88,236.20 273.02,236.20 273.16,236.20 273.29,236.20 273.43,236.20 273.56,236.20 273.70,236.20 273.84,236.20 273.97,236.20 274.11,236.20 274.25,236.20 274.38,236.20 274.52,236.20 274.66,236.20 274.79,236.20 274.93,236.20 275.07,236.20 275.20,236.20 275.34,236.20 275.48,236.20 275.61,236.20 275.75,236.20 275.88,236.20 276.02,236.20 276.16,236.20 276.29,236.20 276.43,236.20 276.57,236.20 276.70,236.20 276.84,236.20 276.98,236.20 277.11,236.20 277.25,236.20 277.39,236.20 277.52,236.20 277.66,236.20 277.79,236.20 277.93,236.20 278.07,236.20 278.20,236.20 278.34,236.20 278.48,236.20 278.61,236.20 278.75,236.20 278.89,236.20 279.02,236.20 279.16,236.20 279.30,236.20 279.43,236.20 279.57,236.20 279.71,236.20 279.84,236.20 279.98,236.20 280.11,236.20 280.25,236.20 280.39,236.20 280.52,236.20 280.66,236.20 280.80,236.20 280.93,236.20 281.07,236.20 281.21,236.20 281.34,236.20 281.48,236.20 281.62,236.20 281.75,236.20 281.89,236.20 282.02,236.20 282.16,236.20 282.30,236.20 282.43,236.20 282.57,236.20 282.71,236.20 282.84,236.20 282.98,236.20 283.12,236.20 283.25,236.20 283.39,236.20 283.53,236.20 283.66,236.20 283.80,236.20 283.94,236.20 284.07,236.20 284.21,236.20 284.34,236.20 284.48,236.20 284.62,236.20 284.75,236.20 284.89,236.20 285.03,236.20 285.16,236.20 285.30,236.20 285.44,236.20 285.57,236.20 285.71,236.20 285.85,236.20 285.98,236.20 286.12,236.20 286.25,236.20 286.39,236.20 286.53,236.20 286.66,236.20 286.80,236.20 286.94,236.20 287.07,236.20 287.21,236.20 287.35,236.20 287.48,236.20 287.62,236.20 287.76,236.20 287.89,236.20 288.03,236.20 288.17,236.20 288.30,236.20 288.44,236.20 288.57,236.20 288.71,236.20 288.85,236.20 288.98,236.20 289.12,236.20 289.26,236.20 289.39,236.20 289.53,236.20 289.67,236.20 289.80,236.20 289.94,236.20 290.08,236.20 290.21,236.20 290.35,236.20 290.48,236.20 290.62,236.20 290.76,236.20 290.89,236.20 291.03,236.20 291.17,236.20 291.30,236.20 291.44,236.20 291.58,236.20 291.71,236.20 291.85,236.20 291.99,236.20 292.12,236.20 292.26,236.20 292.40,236.20 292.53,236.20 292.67,236.20 292.80,236.20 292.94,236.20 293.08,236.20 293.21,236.20 293.35,236.20 293.49,236.20 293.62,236.20 293.76,236.20 293.90,236.20 294.03,236.20 294.17,236.20 294.31,236.20 294.44,236.20 294.58,236.20 294.71,236.20 294.85,236.20 294.99,236.20 295.12,236.20 295.26,236.20 295.40,236.20 295.53,236.20 295.67,236.20 295.81,236.20 295.94,236.20 296.08,236.20 296.22,236.20 296.35,236.20 296.49,236.20 296.63,236.20 296.76,236.20 296.90,236.20 297.03,236.20 297.17,236.20 297.31,236.20 297.44,236.20 297.58,236.20 297.72,236.20 297.85,236.20 297.99,236.20 298.13,236.20 298.26,236.20 298.40,236.20 298.54,236.20 298.67,236.20 298.81,236.20 298.94,236.20 299.08,236.20 299.22,236.20 299.35,236.20 299.49,236.20 299.63,236.20 299.76,236.20 299.90,236.20 300.04,236.20 300.17,236.20 300.31,236.20 300.45,236.20 300.58,236.20 300.72,236.20 300.86,236.20 300.99,236.20 301.13,236.20 301.26,236.20 301.40,236.20 301.54,236.20 301.67,236.20 301.81,236.20 301.95,236.20 302.08,236.20 302.22,236.20 302.36,236.20 302.49,236.20 302.63,236.20 302.77,236.20 302.90,236.20 303.04,236.20 303.17,236.20 303.31,236.20 303.45,236.20 303.58,236.20 303.72,236.20 303.86,236.20 303.99,236.20 304.13,236.20 304.27,236.20 304.40,236.20 304.54,236.20 304.68,236.20 304.81,236.20 304.95,236.20 305.08,236.20 305.22,236.20 305.36,236.20 305.49,236.20 305.63,236.20 305.77,236.20 305.90,236.20 306.04,236.20 306.18,236.20 306.31,236.20 306.45,236.20 306.59,236.20 306.72,236.20 306.86,236.20 307.00,236.20 307.13,236.20 307.27,236.20 307.40,236.20 307.54,236.20 307.68,236.20 307.81,236.20 307.95,236.20 308.09,236.20 308.22,236.20 308.36,236.20 308.50,236.20 308.63,236.20 308.77,236.20 308.91,236.20 309.04,236.20 309.18,236.20 309.31,236.20 309.45,236.20 309.59,236.20 309.72,236.20 309.86,236.20 310.00,236.20 310.13,236.20 310.27,236.20 310.41,236.20 310.54,236.20 310.68,236.20 310.82,236.20 310.95,236.20 311.09,236.20 311.23,236.20 311.36,236.20 311.50,236.20 311.63,236.20 311.77,236.20 311.91,236.20 312.04,236.20 312.18,236.20 312.32,236.20 312.45,236.20 312.59,236.20 312.73,236.20 312.86,236.20 313.00,236.20 313.14,236.20 313.27,236.20 313.41,236.20 313.54,236.20 313.68,236.20 313.82,236.20 313.95,236.20 314.09,236.20 314.23,236.20 314.36,236.20 314.50,236.20" stroke="#66b6d8" stroke-width="1.1" stroke-dasharray="23.2 7.8"/>
<polyline points="198.79,234.54 198.93,234.35 199.06,234.15 199.20,233.94 199.34,233.72 199.47,233.50 199.61,233.28 199.75,233.05 199.88,232.81 200.02,232.58 200.15,232.33 200.29,232.08 200.43,231.83 200.56,231.57 200.70,231.31 200.84,231.05 200.97,230.78 201.11,230.51 201.25,230.23 201.38,229.95 201.52,229.66 201.66,229.38 201.79,229.08 201.93,228.79 202.07,228.49 202.20,229.78 202.34,231.06 202.47,232.35 202.61,233.63 202.75,234.92 202.88,236.20 203.02,236.20 203.16,236.20" stroke="#66b6d8" stroke-width="1.2"/>
</g>
<g clip-path="url(#cr)" fill="none" stroke-linejoin="round">
<path d="M398.90,216.30C399.90,221.53 400.36,231.81 401.90,232.00C403.33,232.17 406.19,219.34 407.60,219.50C409.03,219.66 409.03,233.12 410.40,233.20C412.30,233.31 416.69,207.76 418.60,207.90C420.22,208.02 420.13,222.13 421.70,226.70C422.69,229.57 424.25,233.44 425.30,233.30C426.81,233.10 427.37,218.48 428.90,218.30C430.10,218.16 431.64,226.70 433.10,226.70C434.67,226.70 436.57,219.85 438.00,217.00C439.12,214.76 440.24,213.37 441.00,211.00C441.97,207.95 442.34,204.46 442.70,200.00C443.25,193.18 442.77,183.43 442.90,174.00C443.05,162.75 443.17,148.29 443.60,137.00C443.96,127.46 444.30,110.63 445.10,110.60C445.90,110.57 447.61,127.56 448.40,137.00C449.31,147.83 449.46,162.03 449.90,172.00C450.23,179.44 450.12,185.52 450.80,191.50C451.39,196.66 452.27,201.40 453.40,205.80C454.40,209.69 455.85,214.25 457.00,216.60C457.61,217.86 458.21,219.37 458.80,219.30C459.71,219.19 460.28,213.99 461.50,212.10C462.49,210.56 464.10,210.41 465.10,208.50C467.08,204.72 467.62,188.79 468.70,188.80C469.70,188.81 470.57,205.82 471.40,205.80C472.40,205.77 473.50,186.51 474.10,180.80C474.41,177.82 474.59,177.18 474.80,174.00C475.28,166.60 475.48,149.33 475.80,137.00C476.12,124.67 476.20,113.62 476.70,100.00C477.32,83.19 478.70,43.69 479.50,43.70C480.30,43.71 481.02,83.19 481.50,100.00C481.89,113.62 482.08,124.67 482.30,137.00C482.52,149.33 482.53,163.26 482.80,174.00C483.01,182.28 483.10,189.57 483.60,196.00C483.99,201.06 483.79,207.49 485.20,209.50C485.83,210.39 486.89,210.03 487.60,210.70C488.56,211.61 489.34,214.99 490.00,214.90C490.86,214.78 491.38,209.97 491.90,207.00C492.55,203.24 492.74,198.32 493.30,194.10C493.84,190.00 494.01,184.75 495.20,182.00C495.93,180.32 497.25,178.23 498.00,178.40C499.10,178.65 499.39,184.29 500.10,188.00C501.07,193.07 501.71,205.76 503.10,206.10C503.70,206.24 504.52,204.65 505.10,203.40C506.08,201.29 506.24,196.87 507.30,194.10C508.24,191.64 509.88,187.38 510.90,187.50C512.18,187.66 513.13,198.96 513.90,198.90C514.83,198.83 515.20,188.05 515.70,182.00C516.27,175.00 516.60,159.30 517.00,159.30C517.40,159.30 517.65,174.66 518.10,182.00C518.53,188.93 519.00,195.64 519.60,202.20C520.17,208.46 519.90,218.06 521.60,220.50C522.25,221.43 523.25,220.99 524.00,221.70C525.12,222.77 525.82,225.75 527.00,227.00C527.92,227.98 529.12,228.96 530.10,229.00C530.94,229.03 531.83,228.69 532.50,227.70C534.43,224.86 534.43,205.40 535.20,205.40C535.78,205.40 535.93,214.32 536.70,218.00C537.32,220.97 537.70,224.67 539.10,225.90C540.03,226.72 541.53,225.95 542.70,226.50C544.14,227.17 545.69,230.43 546.90,230.10C548.74,229.60 549.51,218.48 551.10,218.00C551.89,217.76 552.58,219.83 553.60,219.90C555.03,220.00 557.71,216.30 559.00,216.90C560.82,217.74 559.88,226.82 561.40,229.00C562.22,230.18 563.47,230.90 564.50,230.90C565.51,230.90 566.65,228.87 567.50,229.10C568.52,229.38 568.54,232.51 569.90,233.50C571.61,234.75 575.30,235.21 577.70,235.00C579.86,234.81 581.57,232.92 583.70,232.70C585.98,232.47 588.91,233.46 591.00,233.90C592.60,234.24 593.81,235.09 595.20,235.00C596.62,234.91 598.03,233.45 599.40,233.30C600.63,233.16 601.71,233.99 603.00,233.90C604.54,233.79 606.30,232.56 608.00,232.30C609.67,232.04 611.47,232.41 613.10,232.30C614.62,232.20 616.04,231.59 617.50,231.70C619.00,231.81 620.49,232.79 622.00,233.00C623.46,233.21 625.03,233.57 626.40,233.00C628.04,232.32 629.65,228.42 630.90,228.50C631.90,228.56 632.47,231.68 633.40,231.70C634.52,231.72 635.92,227.60 637.20,227.20C638.06,226.93 638.98,228.06 639.80,227.90C640.69,227.73 641.35,226.09 642.30,226.00C643.41,225.90 644.92,226.98 646.10,227.90C647.48,228.98 648.37,231.82 649.90,232.30C651.36,232.76 653.58,230.99 655.00,231.00C656.01,231.01 656.80,231.92 657.60,231.70C658.52,231.44 659.41,228.96 660.10,229.10C660.95,229.28 660.85,233.61 662.00,234.20C663.06,234.75 665.14,233.34 666.50,233.00C667.63,232.72 668.57,232.53 669.60,232.30" stroke="#000" stroke-width="1.9"/>
<path d="M399.40,209.80C400.20,212.63 401.20,215.36 401.80,218.30C402.42,221.38 402.05,227.74 403.00,227.90C404.00,228.07 406.44,218.23 407.80,218.30C409.04,218.37 409.57,226.33 410.90,226.70C411.77,226.94 413.14,224.03 413.90,224.30C415.04,224.71 415.05,232.70 415.70,232.70C416.44,232.70 416.95,222.10 418.10,221.90C418.92,221.76 419.74,226.55 421.10,226.70C423.00,226.92 427.13,218.67 428.90,218.90C430.06,219.05 430.54,221.32 431.30,223.00C432.38,225.39 433.34,232.15 434.30,232.10C435.61,232.03 436.75,220.16 438.00,214.60C439.15,209.50 440.69,205.61 441.50,200.00C442.56,192.62 442.46,183.43 442.80,174.00C443.20,162.75 443.16,148.29 443.60,137.00C443.97,127.46 444.30,110.63 445.10,110.60C445.90,110.57 447.60,127.44 448.40,137.00C449.35,148.28 449.48,164.22 450.00,174.00C450.34,180.44 450.54,185.02 451.00,190.00C451.40,194.38 451.64,198.80 452.50,202.30C453.18,205.04 454.45,207.00 455.20,209.40C455.94,211.77 456.20,216.57 457.00,216.60C458.11,216.64 460.19,207.11 461.50,203.20C462.52,200.16 463.50,198.30 464.20,195.10C465.17,190.69 465.49,179.00 466.00,179.00C466.34,179.00 466.65,182.99 466.90,186.10C467.38,192.03 466.64,207.33 467.80,212.00C468.26,213.86 469.07,215.80 469.60,215.70C471.17,215.40 470.62,185.52 472.30,179.00C472.95,176.48 474.00,176.53 474.60,174.00C476.15,167.45 475.45,149.33 475.80,137.00C476.15,124.67 476.20,113.62 476.70,100.00C477.32,83.19 478.70,43.69 479.50,43.70C480.30,43.71 481.02,83.19 481.50,100.00C481.89,113.62 482.08,124.67 482.30,137.00C482.52,149.33 482.53,163.26 482.80,174.00C483.01,182.28 483.10,189.57 483.60,196.00C483.99,201.06 484.39,206.17 485.20,209.50C485.70,211.54 486.27,212.53 487.00,214.30C487.94,216.58 489.48,219.47 490.50,222.00C491.46,224.37 492.33,229.07 493.00,229.00C493.95,228.90 494.29,219.28 494.90,214.30C495.53,209.15 496.12,203.69 496.70,198.60C497.25,193.77 497.66,184.52 498.30,184.50C498.83,184.48 499.18,190.97 500.10,194.00C501.00,196.96 502.36,202.31 503.70,202.50C504.69,202.64 506.02,199.71 506.90,198.60C507.53,197.80 507.77,196.60 508.50,196.50C509.56,196.35 511.96,198.31 512.90,199.80C513.89,201.37 513.77,205.82 514.10,205.80C514.68,205.76 514.88,194.89 515.20,187.30C515.71,175.17 515.55,150.40 516.40,140.00C516.82,134.85 517.49,128.49 518.00,128.50C518.70,128.52 519.43,142.56 520.00,150.00C520.61,158.01 520.18,171.40 521.50,175.00C521.92,176.14 522.56,177.08 523.00,177.00C523.63,176.89 524.06,174.57 524.50,172.00C525.85,164.06 524.52,131.84 526.70,122.30C527.63,118.21 529.64,117.13 530.30,113.90C531.12,109.92 530.18,106.17 530.30,100.00C530.53,87.70 531.20,44.83 532.40,44.80C533.60,44.77 536.67,87.38 537.50,100.00C537.93,106.57 537.87,110.64 538.10,115.00C538.28,118.38 538.50,120.92 538.70,124.00C538.91,127.25 539.13,129.55 539.30,134.00C539.64,142.89 539.76,163.29 540.00,174.00C540.16,181.18 540.11,187.40 540.50,192.00C540.75,194.88 540.70,197.07 541.50,199.00C542.17,200.62 543.53,203.01 544.50,203.00C545.43,202.99 546.52,201.14 547.20,199.30C548.56,195.62 548.03,187.66 548.60,181.00C549.29,172.98 550.40,154.49 551.10,154.50C551.79,154.51 552.04,173.20 552.80,180.00C553.31,184.57 553.96,187.82 554.60,191.40C555.17,194.61 555.78,197.73 556.40,200.50C556.92,202.86 557.49,205.29 558.00,207.00C558.34,208.14 558.70,208.63 559.00,209.80C559.47,211.63 559.85,214.18 560.20,217.00C560.70,220.99 560.41,231.26 561.40,231.50C561.89,231.62 562.41,229.46 563.30,228.50C564.44,227.27 566.42,225.94 568.00,225.00C569.42,224.15 571.07,223.57 572.30,223.00C573.22,222.58 574.01,221.64 574.70,221.90C575.74,222.29 575.90,225.79 577.10,227.30C578.32,228.84 580.40,229.96 582.00,231.00C583.40,231.91 585.05,233.70 586.10,233.30C587.44,232.79 587.68,226.47 588.60,226.10C588.99,225.94 589.32,226.35 589.80,226.70C590.82,227.45 592.39,230.70 594.00,231.00C595.60,231.29 597.93,228.82 599.40,228.50C600.33,228.29 601.04,228.14 601.80,228.50C602.87,229.00 603.49,231.39 604.80,232.10C606.19,232.85 608.24,232.78 610.00,232.70C611.84,232.61 613.99,231.33 615.60,231.50C616.90,231.63 617.78,232.74 619.00,233.00C620.30,233.27 621.66,233.15 623.20,233.00C625.12,232.81 627.55,231.85 629.60,231.70C631.47,231.56 633.15,231.90 635.00,232.00C636.95,232.10 639.13,232.69 641.00,232.30C642.82,231.93 644.68,230.50 646.10,229.80C647.11,229.30 647.71,228.56 648.70,228.50C649.94,228.42 651.47,229.43 653.00,230.00C654.80,230.67 657.08,231.53 658.80,232.30C660.22,232.93 661.22,234.13 662.60,234.20C664.16,234.28 666.32,232.49 667.70,232.30C668.60,232.18 669.23,232.43 670.00,232.50" stroke="#55aa4c" stroke-width="1.8" stroke-dasharray="9.5 8.5"/>
<path d="M399.40,226.70C401.00,227.30 402.85,228.94 404.20,228.50C405.72,228.00 406.63,223.03 407.80,223.00C408.85,222.98 409.37,226.51 410.90,227.30C412.76,228.25 416.11,227.83 418.70,227.30C421.51,226.72 424.69,223.39 427.10,223.70C429.19,223.97 430.97,228.24 432.50,227.90C434.30,227.50 435.40,221.86 436.80,219.50C437.89,217.67 439.01,216.67 440.00,214.80C441.26,212.42 442.41,210.03 443.40,206.20C445.21,199.21 446.13,175.60 447.40,175.60C448.59,175.60 449.85,194.52 450.80,202.30C451.54,208.34 451.31,217.95 452.70,218.40C453.36,218.62 454.50,217.12 455.20,215.70C456.64,212.80 457.03,206.28 457.90,200.50C459.05,192.90 460.38,183.59 461.20,174.00C462.16,162.71 462.38,149.33 462.90,137.00C463.42,124.67 463.78,113.62 464.30,100.00C464.95,83.20 465.88,43.70 466.50,43.70C467.12,43.70 467.59,83.20 468.00,100.00C468.33,113.62 468.58,124.67 468.80,137.00C469.02,149.33 468.98,161.67 469.30,174.00C469.62,186.34 470.13,203.01 470.70,211.00C470.98,214.84 471.14,219.48 471.60,219.50C472.18,219.52 473.25,211.06 474.10,205.80C475.24,198.72 476.55,189.47 477.60,180.80C478.74,171.43 479.82,151.48 480.60,151.50C481.49,151.52 481.88,179.33 482.40,190.00C482.77,197.60 482.87,203.50 483.40,209.50C483.86,214.67 483.89,223.45 485.20,223.90C485.83,224.12 486.89,221.35 487.60,221.50C488.58,221.70 489.20,225.79 490.00,227.50C490.63,228.84 491.41,231.10 491.90,231.00C492.83,230.81 492.64,222.13 493.10,216.70C493.70,209.52 494.01,196.49 495.20,191.70C495.71,189.65 496.38,187.51 497.00,187.50C497.62,187.49 498.33,189.76 498.90,191.70C500.02,195.53 500.36,204.51 501.50,209.50C502.35,213.23 503.41,216.60 504.50,219.10C505.26,220.84 505.86,223.05 506.90,223.30C507.88,223.53 509.37,221.91 510.50,220.90C511.78,219.76 513.15,218.66 514.10,216.70C515.59,213.60 515.94,203.19 516.70,203.20C517.35,203.21 517.90,209.35 518.40,213.10C519.05,217.97 518.56,229.37 520.00,230.00C520.58,230.25 521.26,228.69 522.20,228.30C523.44,227.79 525.73,228.58 527.00,227.70C528.50,226.66 528.89,222.66 530.10,221.70C530.83,221.12 531.86,220.73 532.50,221.10C533.56,221.72 533.46,225.49 534.30,227.70C535.21,230.09 536.64,234.75 537.90,234.90C538.86,235.01 539.77,232.61 540.90,231.30C542.30,229.67 544.48,225.71 545.70,225.90C546.81,226.07 547.40,231.35 548.10,231.30C548.85,231.25 549.25,224.95 550.00,224.90C550.70,224.85 551.09,229.33 552.40,230.30C553.58,231.18 555.50,230.88 557.20,230.90C559.11,230.93 561.22,229.99 563.30,230.30C565.64,230.65 568.07,233.12 570.50,233.30C572.87,233.48 575.31,231.41 577.70,231.50C580.11,231.59 582.37,233.58 584.90,233.90C587.58,234.24 590.69,233.17 593.40,233.30C595.91,233.42 598.18,234.45 600.60,234.50C603.05,234.55 605.20,233.77 608.00,233.60C611.66,233.38 617.02,233.29 620.70,233.60C623.57,233.84 625.66,234.59 628.30,234.90C631.14,235.24 634.25,235.71 637.20,235.50C640.18,235.29 643.23,233.90 646.10,233.60C648.72,233.32 651.17,233.39 653.70,233.60C656.27,233.82 658.78,234.68 661.40,234.90C664.08,235.12 666.87,234.90 669.60,234.90" stroke="#66b6d8" stroke-width="1.4"/>
</g>
<g font-family='"Liberation Serif", serif' font-size="14.2" fill="#111" stroke="#111" stroke-width="0.3">
<line x1="202.3" y1="29.2" x2="258" y2="29.2" stroke="#000" stroke-width="1.7" stroke-dasharray="6.4 2.4 1.1 2.4"/>
<line x1="202.3" y1="44.9" x2="258" y2="44.9" stroke="#55aa4c" stroke-width="1.6"/>
<line x1="202.3" y1="60.6" x2="258" y2="60.6" stroke="#66b6d8" stroke-width="1.6" stroke-dasharray="23.2 7.8"/>
<text x="263.6" y="33.7">Point 1</text>
<text x="263.6" y="49.4">Point 4</text>
<text x="263.6" y="65.2">Point 7</text>
<line x1="556.3" y1="24.8" x2="613.1" y2="24.8" stroke="#000" stroke-width="1.7"/>
<line x1="556.3" y1="40.7" x2="613.1" y2="40.7" stroke="#55aa4c" stroke-width="1.6" stroke-dasharray="9.5 8.5"/>
<line x1="556.3" y1="55.5" x2="613.1" y2="55.5" stroke="#66b6d8" stroke-width="1.6"/>
<text x="618.8" y="29.5">Point 1</text>
<text x="618.8" y="45.3">Point 4</text>
<text x="618.8" y="60.5">Point 7</text>
</g>
</svg>
</body></html>
